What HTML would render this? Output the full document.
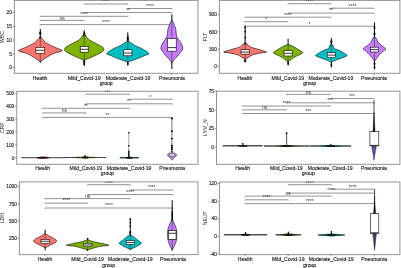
<!DOCTYPE html>
<html><head><meta charset="utf-8"><style>
html,body{margin:0;padding:0;background:#fff;width:401px;height:268px;overflow:hidden;}
body{position:relative;font-family:"Liberation Sans", sans-serif;}
</style></head><body>
<svg width="401" height="268" viewBox="0 0 401 268" style="position:absolute;left:0;top:0;filter:blur(0.3px)">
<rect width="401" height="268" fill="#fff"/>
<g font-family='"Liberation Sans", sans-serif'>
<rect x="14.4" y="0.4" width="183.54999999999998" height="72.89999999999999" fill="none" stroke="#939393" stroke-width="1.0"/>
<line x1="12.6" y1="67.6" x2="14.4" y2="67.6" stroke="#666" stroke-width="0.7" />
<text transform="matrix(1,0,0,1.0,11.90,69.32)" font-size="4.8" text-anchor="end" fill="#222" stroke="#222" stroke-width="0.14" >0</text>
<line x1="12.6" y1="53.8" x2="14.4" y2="53.8" stroke="#666" stroke-width="0.7" />
<text transform="matrix(1,0,0,1.0,11.90,55.52)" font-size="4.8" text-anchor="end" fill="#222" stroke="#222" stroke-width="0.14" >5</text>
<line x1="12.6" y1="40.05" x2="14.4" y2="40.05" stroke="#666" stroke-width="0.7" />
<text transform="matrix(1,0,0,1.0,11.90,41.77)" font-size="4.8" text-anchor="end" fill="#222" stroke="#222" stroke-width="0.14" >10</text>
<line x1="12.6" y1="26.3" x2="14.4" y2="26.3" stroke="#666" stroke-width="0.7" />
<text transform="matrix(1,0,0,1.0,11.90,28.02)" font-size="4.8" text-anchor="end" fill="#222" stroke="#222" stroke-width="0.14" >15</text>
<line x1="12.6" y1="12.5" x2="14.4" y2="12.5" stroke="#666" stroke-width="0.7" />
<text transform="matrix(1,0,0,1.0,11.90,14.22)" font-size="4.8" text-anchor="end" fill="#222" stroke="#222" stroke-width="0.14" >20</text>
<line x1="40.1" y1="73.3" x2="40.1" y2="74.89999999999999" stroke="#666" stroke-width="0.7" />
<text transform="matrix(1,0,0,0.95,40.10,79.81)" font-size="5.1" text-anchor="middle" fill="#222" stroke="#222" stroke-width="0.14" >Health</text>
<line x1="84.2" y1="73.3" x2="84.2" y2="74.89999999999999" stroke="#666" stroke-width="0.7" />
<text transform="matrix(1,0,0,0.95,84.20,79.81)" font-size="5.1" text-anchor="middle" fill="#222" stroke="#222" stroke-width="0.14" >Mild_Covid-19</text>
<line x1="128.0" y1="73.3" x2="128.0" y2="74.89999999999999" stroke="#666" stroke-width="0.7" />
<text transform="matrix(1,0,0,0.95,128.00,79.81)" font-size="5.1" text-anchor="middle" fill="#222" stroke="#222" stroke-width="0.14" >Moderate_Covid-19</text>
<line x1="172.0" y1="73.3" x2="172.0" y2="74.89999999999999" stroke="#666" stroke-width="0.7" />
<text transform="matrix(1,0,0,0.95,172.00,79.81)" font-size="5.1" text-anchor="middle" fill="#222" stroke="#222" stroke-width="0.14" >Pneumonia</text>
<text transform="matrix(1,0,0,0.95,106.17,85.31)" font-size="5.1" text-anchor="middle" fill="#222" stroke="#222" stroke-width="0.14" >group</text>
<text x="4.2" y="37" font-size="5.1" text-anchor="middle" fill="#222" transform="rotate(-90 4.2 37)">WBC</text>
<rect x="219.4" y="0.4" width="180.49999999999997" height="72.89999999999999" fill="none" stroke="#939393" stroke-width="1.0"/>
<line x1="217.6" y1="66.4" x2="219.4" y2="66.4" stroke="#666" stroke-width="0.7" />
<text transform="matrix(1,0,0,1.0,216.90,68.12)" font-size="4.8" text-anchor="end" fill="#222" stroke="#222" stroke-width="0.14" >0</text>
<line x1="217.6" y1="49.13" x2="219.4" y2="49.13" stroke="#666" stroke-width="0.7" />
<text transform="matrix(1,0,0,1.0,216.90,50.85)" font-size="4.8" text-anchor="end" fill="#222" stroke="#222" stroke-width="0.14" >300</text>
<line x1="217.6" y1="31.87" x2="219.4" y2="31.87" stroke="#666" stroke-width="0.7" />
<text transform="matrix(1,0,0,1.0,216.90,33.59)" font-size="4.8" text-anchor="end" fill="#222" stroke="#222" stroke-width="0.14" >600</text>
<line x1="217.6" y1="14.6" x2="219.4" y2="14.6" stroke="#666" stroke-width="0.7" />
<text transform="matrix(1,0,0,1.0,216.90,16.32)" font-size="4.8" text-anchor="end" fill="#222" stroke="#222" stroke-width="0.14" >900</text>
<line x1="244.9" y1="73.3" x2="244.9" y2="74.89999999999999" stroke="#666" stroke-width="0.7" />
<text transform="matrix(1,0,0,0.95,244.90,79.81)" font-size="5.1" text-anchor="middle" fill="#222" stroke="#222" stroke-width="0.14" >Health</text>
<line x1="287.9" y1="73.3" x2="287.9" y2="74.89999999999999" stroke="#666" stroke-width="0.7" />
<text transform="matrix(1,0,0,0.95,287.90,79.81)" font-size="5.1" text-anchor="middle" fill="#222" stroke="#222" stroke-width="0.14" >Mild_Covid-19</text>
<line x1="330.9" y1="73.3" x2="330.9" y2="74.89999999999999" stroke="#666" stroke-width="0.7" />
<text transform="matrix(1,0,0,0.95,330.90,79.81)" font-size="5.1" text-anchor="middle" fill="#222" stroke="#222" stroke-width="0.14" >Moderate_Covid-19</text>
<line x1="374.0" y1="73.3" x2="374.0" y2="74.89999999999999" stroke="#666" stroke-width="0.7" />
<text transform="matrix(1,0,0,0.95,374.00,79.81)" font-size="5.1" text-anchor="middle" fill="#222" stroke="#222" stroke-width="0.14" >Pneumonia</text>
<text transform="matrix(1,0,0,0.95,309.65,85.31)" font-size="5.1" text-anchor="middle" fill="#222" stroke="#222" stroke-width="0.14" >group</text>
<text x="206.6" y="37" font-size="5.1" text-anchor="middle" fill="#222" transform="rotate(-90 206.6 37)">PLT</text>
<rect x="16.8" y="91.3" width="181.14999999999998" height="73.00000000000001" fill="none" stroke="#939393" stroke-width="1.0"/>
<line x1="15.0" y1="157.8" x2="16.8" y2="157.8" stroke="#666" stroke-width="0.7" />
<text transform="matrix(1,0,0,1.0,14.30,159.52)" font-size="4.8" text-anchor="end" fill="#222" stroke="#222" stroke-width="0.14" >0</text>
<line x1="15.0" y1="144.9" x2="16.8" y2="144.9" stroke="#666" stroke-width="0.7" />
<text transform="matrix(1,0,0,1.0,14.30,146.62)" font-size="4.8" text-anchor="end" fill="#222" stroke="#222" stroke-width="0.14" >100</text>
<line x1="15.0" y1="132.0" x2="16.8" y2="132.0" stroke="#666" stroke-width="0.7" />
<text transform="matrix(1,0,0,1.0,14.30,133.72)" font-size="4.8" text-anchor="end" fill="#222" stroke="#222" stroke-width="0.14" >200</text>
<line x1="15.0" y1="119.1" x2="16.8" y2="119.1" stroke="#666" stroke-width="0.7" />
<text transform="matrix(1,0,0,1.0,14.30,120.82)" font-size="4.8" text-anchor="end" fill="#222" stroke="#222" stroke-width="0.14" >300</text>
<line x1="15.0" y1="106.2" x2="16.8" y2="106.2" stroke="#666" stroke-width="0.7" />
<text transform="matrix(1,0,0,1.0,14.30,107.92)" font-size="4.8" text-anchor="end" fill="#222" stroke="#222" stroke-width="0.14" >400</text>
<line x1="15.0" y1="93.3" x2="16.8" y2="93.3" stroke="#666" stroke-width="0.7" />
<text transform="matrix(1,0,0,1.0,14.30,95.02)" font-size="4.8" text-anchor="end" fill="#222" stroke="#222" stroke-width="0.14" >500</text>
<line x1="42.7" y1="164.3" x2="42.7" y2="165.9" stroke="#666" stroke-width="0.7" />
<text transform="matrix(1,0,0,0.95,42.70,169.81)" font-size="5.1" text-anchor="middle" fill="#222" stroke="#222" stroke-width="0.14" >Health</text>
<line x1="85.9" y1="164.3" x2="85.9" y2="165.9" stroke="#666" stroke-width="0.7" />
<text transform="matrix(1,0,0,0.95,85.90,169.81)" font-size="5.1" text-anchor="middle" fill="#222" stroke="#222" stroke-width="0.14" >Mild_Covid-19</text>
<line x1="129.0" y1="164.3" x2="129.0" y2="165.9" stroke="#666" stroke-width="0.7" />
<text transform="matrix(1,0,0,0.95,129.00,169.81)" font-size="5.1" text-anchor="middle" fill="#222" stroke="#222" stroke-width="0.14" >Moderate_Covid-19</text>
<line x1="172.2" y1="164.3" x2="172.2" y2="165.9" stroke="#666" stroke-width="0.7" />
<text transform="matrix(1,0,0,0.95,172.20,169.81)" font-size="5.1" text-anchor="middle" fill="#222" stroke="#222" stroke-width="0.14" >Pneumonia</text>
<text transform="matrix(1,0,0,0.95,107.38,175.31)" font-size="5.1" text-anchor="middle" fill="#222" stroke="#222" stroke-width="0.14" >group</text>
<text x="4.2" y="127.7" font-size="5.1" text-anchor="middle" fill="#222" transform="rotate(-90 4.2 127.7)">CRP</text>
<rect x="216.5" y="91.2" width="183.39999999999998" height="73.10000000000001" fill="none" stroke="#939393" stroke-width="1.0"/>
<line x1="214.7" y1="147.3" x2="216.5" y2="147.3" stroke="#666" stroke-width="0.7" />
<text transform="matrix(1,0,0,1.0,214.00,149.02)" font-size="4.8" text-anchor="end" fill="#222" stroke="#222" stroke-width="0.14" >0</text>
<line x1="214.7" y1="128.6" x2="216.5" y2="128.6" stroke="#666" stroke-width="0.7" />
<text transform="matrix(1,0,0,1.0,214.00,130.32)" font-size="4.8" text-anchor="end" fill="#222" stroke="#222" stroke-width="0.14" >25</text>
<line x1="214.7" y1="110.0" x2="216.5" y2="110.0" stroke="#666" stroke-width="0.7" />
<text transform="matrix(1,0,0,1.0,214.00,111.72)" font-size="4.8" text-anchor="end" fill="#222" stroke="#222" stroke-width="0.14" >50</text>
<line x1="214.7" y1="91.3" x2="216.5" y2="91.3" stroke="#666" stroke-width="0.7" />
<text transform="matrix(1,0,0,1.0,214.00,93.02)" font-size="4.8" text-anchor="end" fill="#222" stroke="#222" stroke-width="0.14" >75</text>
<line x1="242.7" y1="164.3" x2="242.7" y2="165.9" stroke="#666" stroke-width="0.7" />
<text transform="matrix(1,0,0,0.95,242.70,169.81)" font-size="5.1" text-anchor="middle" fill="#222" stroke="#222" stroke-width="0.14" >Health</text>
<line x1="286.4" y1="164.3" x2="286.4" y2="165.9" stroke="#666" stroke-width="0.7" />
<text transform="matrix(1,0,0,0.95,286.40,169.81)" font-size="5.1" text-anchor="middle" fill="#222" stroke="#222" stroke-width="0.14" >Mild_Covid-19</text>
<line x1="330.2" y1="164.3" x2="330.2" y2="165.9" stroke="#666" stroke-width="0.7" />
<text transform="matrix(1,0,0,0.95,330.20,169.81)" font-size="5.1" text-anchor="middle" fill="#222" stroke="#222" stroke-width="0.14" >Moderate_Covid-19</text>
<line x1="373.9" y1="164.3" x2="373.9" y2="165.9" stroke="#666" stroke-width="0.7" />
<text transform="matrix(1,0,0,0.95,373.90,169.81)" font-size="5.1" text-anchor="middle" fill="#222" stroke="#222" stroke-width="0.14" >Pneumonia</text>
<text transform="matrix(1,0,0,0.95,308.20,175.31)" font-size="5.1" text-anchor="middle" fill="#222" stroke="#222" stroke-width="0.14" >group</text>
<text x="206.6" y="127.6" font-size="5.1" text-anchor="middle" fill="#222" transform="rotate(-90 206.6 127.6)">LYM_N</text>
<rect x="19.4" y="181.9" width="178.54999999999998" height="72.69999999999999" fill="none" stroke="#939393" stroke-width="1.0"/>
<line x1="17.599999999999998" y1="238.3" x2="19.4" y2="238.3" stroke="#666" stroke-width="0.7" />
<text transform="matrix(1,0,0,1.0,16.90,240.02)" font-size="4.8" text-anchor="end" fill="#222" stroke="#222" stroke-width="0.14" >250</text>
<line x1="17.599999999999998" y1="221.0" x2="19.4" y2="221.0" stroke="#666" stroke-width="0.7" />
<text transform="matrix(1,0,0,1.0,16.90,222.72)" font-size="4.8" text-anchor="end" fill="#222" stroke="#222" stroke-width="0.14" >500</text>
<line x1="17.599999999999998" y1="203.8" x2="19.4" y2="203.8" stroke="#666" stroke-width="0.7" />
<text transform="matrix(1,0,0,1.0,16.90,205.52)" font-size="4.8" text-anchor="end" fill="#222" stroke="#222" stroke-width="0.14" >750</text>
<line x1="17.599999999999998" y1="186.5" x2="19.4" y2="186.5" stroke="#666" stroke-width="0.7" />
<text transform="matrix(1,0,0,1.0,16.90,188.22)" font-size="4.8" text-anchor="end" fill="#222" stroke="#222" stroke-width="0.14" >1000</text>
<line x1="45.0" y1="254.6" x2="45.0" y2="256.2" stroke="#666" stroke-width="0.7" />
<text transform="matrix(1,0,0,0.95,45.00,261.11)" font-size="5.1" text-anchor="middle" fill="#222" stroke="#222" stroke-width="0.14" >Health</text>
<line x1="87.6" y1="254.6" x2="87.6" y2="256.2" stroke="#666" stroke-width="0.7" />
<text transform="matrix(1,0,0,0.95,87.60,261.11)" font-size="5.1" text-anchor="middle" fill="#222" stroke="#222" stroke-width="0.14" >Mild_Covid-19</text>
<line x1="130.3" y1="254.6" x2="130.3" y2="256.2" stroke="#666" stroke-width="0.7" />
<text transform="matrix(1,0,0,0.95,130.30,261.11)" font-size="5.1" text-anchor="middle" fill="#222" stroke="#222" stroke-width="0.14" >Moderate_Covid-19</text>
<line x1="172.9" y1="254.6" x2="172.9" y2="256.2" stroke="#666" stroke-width="0.7" />
<text transform="matrix(1,0,0,0.95,172.90,261.11)" font-size="5.1" text-anchor="middle" fill="#222" stroke="#222" stroke-width="0.14" >Pneumonia</text>
<text transform="matrix(1,0,0,0.95,108.67,266.61)" font-size="5.1" text-anchor="middle" fill="#222" stroke="#222" stroke-width="0.14" >group</text>
<text x="4.2" y="218.2" font-size="5.1" text-anchor="middle" fill="#222" transform="rotate(-90 4.2 218.2)">LDH</text>
<rect x="219.4" y="182.0" width="180.49999999999997" height="72.6" fill="none" stroke="#939393" stroke-width="1.0"/>
<line x1="217.6" y1="253.9" x2="219.4" y2="253.9" stroke="#666" stroke-width="0.7" />
<text transform="matrix(1,0,0,1.0,216.90,255.62)" font-size="4.8" text-anchor="end" fill="#222" stroke="#222" stroke-width="0.14" >-40</text>
<line x1="217.6" y1="236.3" x2="219.4" y2="236.3" stroke="#666" stroke-width="0.7" />
<text transform="matrix(1,0,0,1.0,216.90,238.02)" font-size="4.8" text-anchor="end" fill="#222" stroke="#222" stroke-width="0.14" >0</text>
<line x1="217.6" y1="218.7" x2="219.4" y2="218.7" stroke="#666" stroke-width="0.7" />
<text transform="matrix(1,0,0,1.0,216.90,220.42)" font-size="4.8" text-anchor="end" fill="#222" stroke="#222" stroke-width="0.14" >40</text>
<line x1="217.6" y1="201.2" x2="219.4" y2="201.2" stroke="#666" stroke-width="0.7" />
<text transform="matrix(1,0,0,1.0,216.90,202.92)" font-size="4.8" text-anchor="end" fill="#222" stroke="#222" stroke-width="0.14" >80</text>
<line x1="217.6" y1="183.6" x2="219.4" y2="183.6" stroke="#666" stroke-width="0.7" />
<text transform="matrix(1,0,0,1.0,216.90,185.32)" font-size="4.8" text-anchor="end" fill="#222" stroke="#222" stroke-width="0.14" >120</text>
<line x1="245.2" y1="254.6" x2="245.2" y2="256.2" stroke="#666" stroke-width="0.7" />
<text transform="matrix(1,0,0,0.95,245.20,261.11)" font-size="5.1" text-anchor="middle" fill="#222" stroke="#222" stroke-width="0.14" >Health</text>
<line x1="288.2" y1="254.6" x2="288.2" y2="256.2" stroke="#666" stroke-width="0.7" />
<text transform="matrix(1,0,0,0.95,288.20,261.11)" font-size="5.1" text-anchor="middle" fill="#222" stroke="#222" stroke-width="0.14" >Mild_Covid-19</text>
<line x1="331.2" y1="254.6" x2="331.2" y2="256.2" stroke="#666" stroke-width="0.7" />
<text transform="matrix(1,0,0,0.95,331.20,261.11)" font-size="5.1" text-anchor="middle" fill="#222" stroke="#222" stroke-width="0.14" >Moderate_Covid-19</text>
<line x1="374.2" y1="254.6" x2="374.2" y2="256.2" stroke="#666" stroke-width="0.7" />
<text transform="matrix(1,0,0,0.95,374.20,261.11)" font-size="5.1" text-anchor="middle" fill="#222" stroke="#222" stroke-width="0.14" >Pneumonia</text>
<text transform="matrix(1,0,0,0.95,309.65,266.61)" font-size="5.1" text-anchor="middle" fill="#222" stroke="#222" stroke-width="0.14" >group</text>
<text x="206.6" y="218.2" font-size="5.1" text-anchor="middle" fill="#222" transform="rotate(-90 206.6 218.2)">NEUT</text>
<clipPath id="c0"><rect x="14.4" y="-0.09999999999999998" width="183.54999999999998" height="73.39999999999999"/></clipPath>
<g clip-path="url(#c0)">
<path d="M84.2,4.8 L84.2,4.0 L128.0,4.0 L128.0,4.8" fill="none" stroke="#666" stroke-width="0.7"/>
<text transform="matrix(1,0,0,0.95,106.10,3.31)" font-size="5.0" text-anchor="middle" fill="#333" stroke="#333" stroke-width="0" >****</text>
<path d="M128.0,9.3 L128.0,8.5 L172.0,8.5 L172.0,9.3" fill="none" stroke="#666" stroke-width="0.7"/>
<text transform="matrix(1,0,0,0.95,150.00,7.81)" font-size="5.0" text-anchor="middle" fill="#333" stroke="#333" stroke-width="0" >****</text>
<path d="M84.2,13.3 L84.2,12.5 L172.0,12.5 L172.0,13.3" fill="none" stroke="#666" stroke-width="0.7"/>
<text transform="matrix(1,0,0,0.95,128.10,11.81)" font-size="5.0" text-anchor="middle" fill="#333" stroke="#333" stroke-width="0" >**</text>
<path d="M40.1,17.1 L40.1,16.3 L128.0,16.3 L128.0,17.1" fill="none" stroke="#666" stroke-width="0.7"/>
<text transform="matrix(1,0,0,0.95,84.05,15.61)" font-size="5.0" text-anchor="middle" fill="#333" stroke="#333" stroke-width="0" >****</text>
<path d="M40.1,21.2 L40.1,20.4 L84.2,20.4 L84.2,21.2" fill="none" stroke="#666" stroke-width="0.7"/>
<text transform="matrix(1,0,0,0.95,62.15,19.71)" font-size="5.0" text-anchor="middle" fill="#333" stroke="#333" stroke-width="0" >ns</text>
<path d="M40.1,25.400000000000002 L40.1,24.6 L172.0,24.6 L172.0,25.400000000000002" fill="none" stroke="#666" stroke-width="0.7"/>
<text transform="matrix(1,0,0,0.95,106.05,23.91)" font-size="5.0" text-anchor="middle" fill="#333" stroke="#333" stroke-width="0" >****</text>
</g>
<clipPath id="c1"><rect x="219.4" y="-0.09999999999999998" width="180.49999999999997" height="73.39999999999999"/></clipPath>
<g clip-path="url(#c1)">
<path d="M287.9,4.5 L287.9,3.7 L330.9,3.7 L330.9,4.5" fill="none" stroke="#666" stroke-width="0.7"/>
<text transform="matrix(1,0,0,0.95,309.40,3.01)" font-size="5.0" text-anchor="middle" fill="#333" stroke="#333" stroke-width="0" >****</text>
<path d="M330.9,9.0 L330.9,8.2 L374.0,8.2 L374.0,9.0" fill="none" stroke="#666" stroke-width="0.7"/>
<text transform="matrix(1,0,0,0.95,352.45,7.51)" font-size="5.0" text-anchor="middle" fill="#333" stroke="#333" stroke-width="0" >****</text>
<path d="M287.9,13.9 L287.9,13.1 L374.0,13.1 L374.0,13.9" fill="none" stroke="#666" stroke-width="0.7"/>
<text transform="matrix(1,0,0,0.95,330.95,12.41)" font-size="5.0" text-anchor="middle" fill="#333" stroke="#333" stroke-width="0" >**</text>
<path d="M244.9,18.0 L244.9,17.2 L330.9,17.2 L330.9,18.0" fill="none" stroke="#666" stroke-width="0.7"/>
<text transform="matrix(1,0,0,0.95,287.90,16.51)" font-size="5.0" text-anchor="middle" fill="#333" stroke="#333" stroke-width="0" >****</text>
<path d="M244.9,22.5 L244.9,21.7 L287.9,21.7 L287.9,22.5" fill="none" stroke="#666" stroke-width="0.7"/>
<text transform="matrix(1,0,0,0.95,266.40,21.01)" font-size="5.0" text-anchor="middle" fill="#333" stroke="#333" stroke-width="0" >*</text>
<path d="M244.9,27.0 L244.9,26.2 L374.0,26.2 L374.0,27.0" fill="none" stroke="#666" stroke-width="0.7"/>
<text transform="matrix(1,0,0,0.95,309.45,25.51)" font-size="5.0" text-anchor="middle" fill="#333" stroke="#333" stroke-width="0" >*</text>
</g>
<clipPath id="c2"><rect x="16.8" y="90.8" width="181.14999999999998" height="73.50000000000001"/></clipPath>
<g clip-path="url(#c2)">
<path d="M85.9,95.0 L85.9,94.2 L129.0,94.2 L129.0,95.0" fill="none" stroke="#666" stroke-width="0.7"/>
<text transform="matrix(1,0,0,0.95,107.45,94.11)" font-size="5.0" text-anchor="middle" fill="#333" stroke="#333" stroke-width="0" >***</text>
<path d="M129.0,100.0 L129.0,99.2 L172.2,99.2 L172.2,100.0" fill="none" stroke="#666" stroke-width="0.7"/>
<text transform="matrix(1,0,0,0.95,150.60,98.51)" font-size="5.0" text-anchor="middle" fill="#333" stroke="#333" stroke-width="0" >*</text>
<path d="M85.9,104.6 L85.9,103.8 L172.2,103.8 L172.2,104.6" fill="none" stroke="#666" stroke-width="0.7"/>
<text transform="matrix(1,0,0,0.95,129.05,103.11)" font-size="5.0" text-anchor="middle" fill="#333" stroke="#333" stroke-width="0" >**</text>
<path d="M42.7,109.1 L42.7,108.3 L129.0,108.3 L129.0,109.1" fill="none" stroke="#666" stroke-width="0.7"/>
<text transform="matrix(1,0,0,0.95,85.85,107.61)" font-size="5.0" text-anchor="middle" fill="#333" stroke="#333" stroke-width="0" >**</text>
<path d="M42.7,113.7 L42.7,112.9 L85.9,112.9 L85.9,113.7" fill="none" stroke="#666" stroke-width="0.7"/>
<text transform="matrix(1,0,0,0.95,64.30,112.21)" font-size="5.0" text-anchor="middle" fill="#333" stroke="#333" stroke-width="0" >ns</text>
<path d="M42.7,118.2 L42.7,117.4 L172.2,117.4 L172.2,118.2" fill="none" stroke="#666" stroke-width="0.7"/>
<text transform="matrix(1,0,0,0.95,107.45,116.71)" font-size="5.0" text-anchor="middle" fill="#333" stroke="#333" stroke-width="0" >**</text>
</g>
<clipPath id="c3"><rect x="216.5" y="90.7" width="183.39999999999998" height="73.60000000000001"/></clipPath>
<g clip-path="url(#c3)">
<path d="M286.4,95.2 L286.4,94.4 L330.2,94.4 L330.2,95.2" fill="none" stroke="#666" stroke-width="0.7"/>
<text transform="matrix(1,0,0,0.95,308.30,93.71)" font-size="5.0" text-anchor="middle" fill="#333" stroke="#333" stroke-width="0" >ns</text>
<path d="M330.2,99.3 L330.2,98.5 L373.9,98.5 L373.9,99.3" fill="none" stroke="#666" stroke-width="0.7"/>
<text transform="matrix(1,0,0,0.95,352.05,97.81)" font-size="5.0" text-anchor="middle" fill="#333" stroke="#333" stroke-width="0" >***</text>
<path d="M286.4,103.6 L286.4,102.8 L373.9,102.8 L373.9,103.6" fill="none" stroke="#666" stroke-width="0.7"/>
<text transform="matrix(1,0,0,0.95,330.15,102.11)" font-size="5.0" text-anchor="middle" fill="#333" stroke="#333" stroke-width="0" >***</text>
<path d="M242.7,106.8 L242.7,106.0 L330.2,106.0 L330.2,106.8" fill="none" stroke="#666" stroke-width="0.7"/>
<text transform="matrix(1,0,0,0.95,286.45,105.31)" font-size="5.0" text-anchor="middle" fill="#333" stroke="#333" stroke-width="0" >****</text>
<path d="M242.7,110.6 L242.7,109.8 L286.4,109.8 L286.4,110.6" fill="none" stroke="#666" stroke-width="0.7"/>
<text transform="matrix(1,0,0,0.95,264.55,109.11)" font-size="5.0" text-anchor="middle" fill="#333" stroke="#333" stroke-width="0" >ns</text>
<path d="M242.7,114.3 L242.7,113.5 L373.9,113.5 L373.9,114.3" fill="none" stroke="#666" stroke-width="0.7"/>
<text transform="matrix(1,0,0,0.95,308.30,112.81)" font-size="5.0" text-anchor="middle" fill="#333" stroke="#333" stroke-width="0" >***</text>
</g>
<clipPath id="c4"><rect x="19.4" y="181.4" width="178.54999999999998" height="73.19999999999999"/></clipPath>
<g clip-path="url(#c4)">
<path d="M87.6,185.5 L87.6,184.7 L130.3,184.7 L130.3,185.5" fill="none" stroke="#666" stroke-width="0.7"/>
<text transform="matrix(1,0,0,0.95,108.95,184.91)" font-size="5.0" text-anchor="middle" fill="#333" stroke="#333" stroke-width="0" >****</text>
<path d="M130.3,190.8 L130.3,190.0 L172.9,190.0 L172.9,190.8" fill="none" stroke="#666" stroke-width="0.7"/>
<text transform="matrix(1,0,0,0.95,151.60,189.31)" font-size="5.0" text-anchor="middle" fill="#333" stroke="#333" stroke-width="0" >****</text>
<path d="M87.6,195.3 L87.6,194.5 L172.9,194.5 L172.9,195.3" fill="none" stroke="#666" stroke-width="0.7"/>
<text transform="matrix(1,0,0,0.95,130.25,193.81)" font-size="5.0" text-anchor="middle" fill="#333" stroke="#333" stroke-width="0" >****</text>
<path d="M45.0,199.4 L45.0,198.6 L130.3,198.6 L130.3,199.4" fill="none" stroke="#666" stroke-width="0.7"/>
<text transform="matrix(1,0,0,0.95,87.65,197.91)" font-size="5.0" text-anchor="middle" fill="#333" stroke="#333" stroke-width="0" >ns</text>
<path d="M45.0,203.9 L45.0,203.1 L87.6,203.1 L87.6,203.9" fill="none" stroke="#666" stroke-width="0.7"/>
<text transform="matrix(1,0,0,0.95,66.30,202.41)" font-size="5.0" text-anchor="middle" fill="#333" stroke="#333" stroke-width="0" >****</text>
<path d="M45.0,208.8 L45.0,208.0 L172.9,208.0 L172.9,208.8" fill="none" stroke="#666" stroke-width="0.7"/>
<text transform="matrix(1,0,0,0.95,108.95,207.31)" font-size="5.0" text-anchor="middle" fill="#333" stroke="#333" stroke-width="0" >****</text>
</g>
<clipPath id="c5"><rect x="219.4" y="181.5" width="180.49999999999997" height="73.1"/></clipPath>
<g clip-path="url(#c5)">
<path d="M288.2,185.5 L288.2,184.7 L331.2,184.7 L331.2,185.5" fill="none" stroke="#666" stroke-width="0.7"/>
<text transform="matrix(1,0,0,0.95,309.70,184.91)" font-size="5.0" text-anchor="middle" fill="#333" stroke="#333" stroke-width="0" >****</text>
<path d="M331.2,190.0 L331.2,189.2 L374.2,189.2 L374.2,190.0" fill="none" stroke="#666" stroke-width="0.7"/>
<text transform="matrix(1,0,0,0.95,352.70,188.51)" font-size="5.0" text-anchor="middle" fill="#333" stroke="#333" stroke-width="0" >****</text>
<path d="M288.2,193.9 L288.2,193.1 L374.2,193.1 L374.2,193.9" fill="none" stroke="#666" stroke-width="0.7"/>
<text transform="matrix(1,0,0,0.95,331.20,192.41)" font-size="5.0" text-anchor="middle" fill="#333" stroke="#333" stroke-width="0" >****</text>
<path d="M245.2,196.9 L245.2,196.1 L331.2,196.1 L331.2,196.9" fill="none" stroke="#666" stroke-width="0.7"/>
<text transform="matrix(1,0,0,0.95,288.20,195.41)" font-size="5.0" text-anchor="middle" fill="#333" stroke="#333" stroke-width="0" >ns</text>
<path d="M245.2,200.60000000000002 L245.2,199.8 L288.2,199.8 L288.2,200.60000000000002" fill="none" stroke="#666" stroke-width="0.7"/>
<text transform="matrix(1,0,0,0.95,266.70,199.11)" font-size="5.0" text-anchor="middle" fill="#333" stroke="#333" stroke-width="0" >****</text>
<path d="M245.2,204.4 L245.2,203.6 L374.2,203.6 L374.2,204.4" fill="none" stroke="#666" stroke-width="0.7"/>
<text transform="matrix(1,0,0,0.95,309.70,202.91)" font-size="5.0" text-anchor="middle" fill="#333" stroke="#333" stroke-width="0" >****</text>
</g>
<line x1="40.3" y1="28.9" x2="40.3" y2="62.6" stroke="#000" stroke-width="1.0" />
<ellipse cx="40.3" cy="33.3" rx="1.1" ry="1.8" fill="#0a0a14"/>
<ellipse cx="40.3" cy="37.2" rx="1.2" ry="1.0" fill="#0a0a14"/>
<ellipse cx="40.3" cy="61.8" rx="0.8" ry="0.8" fill="#0a0a14"/>
<path d="M40.30,37.70 L40.96,38.11 L41.57,38.51 L42.14,38.92 L42.66,39.32 L43.12,39.73 L43.51,40.13 L43.82,40.54 L44.10,40.94 L44.39,41.35 L44.75,41.75 L45.22,42.16 L45.78,42.56 L46.43,42.97 L47.12,43.37 L47.84,43.78 L48.57,44.18 L49.29,44.59 L50.05,44.99 L50.83,45.40 L51.63,45.80 L52.46,46.21 L53.32,46.61 L54.20,47.02 L55.11,47.42 L56.10,47.83 L57.14,48.23 L58.19,48.64 L59.21,49.04 L60.18,49.45 L61.23,49.85 L62.19,50.26 L62.33,50.66 L61.74,51.07 L60.86,51.47 L59.70,51.88 L58.09,52.28 L56.38,52.69 L54.91,53.09 L53.84,53.50 L52.90,53.90 L52.04,54.31 L51.25,54.71 L50.51,55.12 L49.79,55.52 L49.08,55.93 L48.36,56.33 L47.65,56.74 L46.95,57.14 L46.28,57.55 L45.63,57.95 L45.01,58.36 L44.42,58.76 L43.88,59.17 L43.36,59.57 L42.83,59.98 L42.27,60.38 L41.65,60.79 L40.99,61.19 L40.30,61.60 L40.30,61.60 L39.61,61.19 L38.95,60.79 L38.33,60.38 L37.77,59.98 L37.24,59.57 L36.72,59.17 L36.18,58.76 L35.59,58.36 L34.97,57.95 L34.32,57.55 L33.65,57.14 L32.95,56.74 L32.24,56.33 L31.52,55.93 L30.81,55.52 L30.09,55.12 L29.35,54.71 L28.56,54.31 L27.70,53.90 L26.76,53.50 L25.69,53.09 L24.22,52.69 L22.51,52.28 L20.90,51.88 L19.74,51.47 L18.86,51.07 L18.27,50.66 L18.41,50.26 L19.37,49.85 L20.42,49.45 L21.39,49.04 L22.41,48.64 L23.46,48.23 L24.50,47.83 L25.49,47.42 L26.40,47.02 L27.28,46.61 L28.14,46.21 L28.97,45.80 L29.77,45.40 L30.55,44.99 L31.31,44.59 L32.03,44.18 L32.76,43.78 L33.48,43.37 L34.17,42.97 L34.82,42.56 L35.38,42.16 L35.85,41.75 L36.21,41.35 L36.50,40.94 L36.78,40.54 L37.09,40.13 L37.48,39.73 L37.94,39.32 L38.46,38.92 L39.03,38.51 L39.64,38.11 L40.30,37.70 Z" fill="#F8766D" stroke="#000" stroke-width="0.6" stroke-linejoin="round"/>
<line x1="40.3" y1="37.7" x2="40.3" y2="61.6" stroke="#222" stroke-width="0.5" />
<rect x="35.9" y="47.3" width="8.799999999999997" height="5.900000000000006" fill="#fff" stroke="#000" stroke-width="0.6"/>
<line x1="35.9" y1="50.3" x2="44.699999999999996" y2="50.3" stroke="#222" stroke-width="0.9" />
<line x1="84.2" y1="30.2" x2="84.2" y2="66" stroke="#000" stroke-width="1.0" />
<ellipse cx="84.2" cy="33.2" rx="0.9" ry="1.3" fill="#0a0a14"/>
<ellipse cx="84.2" cy="35.2" rx="1.4" ry="1.2" fill="#0a0a14"/>
<ellipse cx="84.2" cy="61.6" rx="1.1" ry="1.4" fill="#0a0a14"/>
<ellipse cx="84.2" cy="63.8" rx="0.85" ry="1.2" fill="#0a0a14"/>
<path d="M84.20,35.30 L85.59,35.72 L86.10,36.14 L86.44,36.56 L86.69,36.97 L86.95,37.39 L87.30,37.81 L87.68,38.23 L88.07,38.65 L88.47,39.07 L88.92,39.49 L89.44,39.91 L90.05,40.32 L90.76,40.74 L91.52,41.16 L92.30,41.58 L93.08,42.00 L93.90,42.42 L94.76,42.84 L95.63,43.25 L96.48,43.67 L97.27,44.09 L98.00,44.51 L98.71,44.93 L99.41,45.35 L100.11,45.77 L100.90,46.18 L101.72,46.60 L102.45,47.02 L102.95,47.44 L103.25,47.86 L103.51,48.28 L103.72,48.70 L103.86,49.12 L103.90,49.53 L103.81,49.95 L103.61,50.37 L103.31,50.79 L102.96,51.21 L102.57,51.63 L102.00,52.05 L101.26,52.46 L100.43,52.88 L99.58,53.30 L98.79,53.72 L97.99,54.14 L97.17,54.56 L96.33,54.98 L95.48,55.39 L94.60,55.81 L93.70,56.23 L92.76,56.65 L91.79,57.07 L90.81,57.49 L89.82,57.91 L88.84,58.33 L87.87,58.74 L86.80,59.16 L85.57,59.58 L84.20,60.00 L84.20,60.00 L82.83,59.58 L81.60,59.16 L80.53,58.74 L79.56,58.33 L78.58,57.91 L77.59,57.49 L76.61,57.07 L75.64,56.65 L74.70,56.23 L73.80,55.81 L72.92,55.39 L72.07,54.98 L71.23,54.56 L70.41,54.14 L69.61,53.72 L68.82,53.30 L67.97,52.88 L67.14,52.46 L66.40,52.05 L65.83,51.63 L65.44,51.21 L65.09,50.79 L64.79,50.37 L64.59,49.95 L64.50,49.53 L64.54,49.12 L64.68,48.70 L64.89,48.28 L65.15,47.86 L65.45,47.44 L65.95,47.02 L66.68,46.60 L67.50,46.18 L68.29,45.77 L68.99,45.35 L69.69,44.93 L70.40,44.51 L71.13,44.09 L71.92,43.67 L72.77,43.25 L73.64,42.84 L74.50,42.42 L75.32,42.00 L76.10,41.58 L76.88,41.16 L77.64,40.74 L78.35,40.32 L78.96,39.91 L79.48,39.49 L79.93,39.07 L80.33,38.65 L80.72,38.23 L81.10,37.81 L81.45,37.39 L81.71,36.97 L81.96,36.56 L82.30,36.14 L82.81,35.72 L84.20,35.30 Z" fill="#7EB300" stroke="#000" stroke-width="0.6" stroke-linejoin="round"/>
<line x1="84.2" y1="35.3" x2="84.2" y2="60" stroke="#222" stroke-width="0.5" />
<rect x="80.2" y="46.5" width="8.0" height="5.700000000000003" fill="#fff" stroke="#000" stroke-width="0.6"/>
<line x1="80.2" y1="49.3" x2="88.2" y2="49.3" stroke="#222" stroke-width="0.9" />
<line x1="127.8" y1="32.5" x2="127.8" y2="65.6" stroke="#000" stroke-width="1.0" />
<ellipse cx="127.8" cy="38.6" rx="1.05" ry="2.8" fill="#0a0a14"/>
<ellipse cx="127.8" cy="63.5" rx="0.8" ry="1.5" fill="#0a0a14"/>
<path d="M127.80,41.00 L128.50,41.36 L129.16,41.72 L129.77,42.08 L130.34,42.44 L130.88,42.81 L131.43,43.17 L132.00,43.53 L132.58,43.89 L133.15,44.25 L133.72,44.61 L134.31,44.97 L134.92,45.33 L135.55,45.69 L136.21,46.05 L136.93,46.42 L137.73,46.78 L138.57,47.14 L139.43,47.50 L140.28,47.86 L141.11,48.22 L141.87,48.58 L142.56,48.94 L143.17,49.30 L143.75,49.66 L144.34,50.03 L144.98,50.39 L145.64,50.75 L146.26,51.11 L146.76,51.47 L147.19,51.83 L147.61,52.19 L148.01,52.55 L148.36,52.91 L148.64,53.27 L148.83,53.64 L148.90,54.00 L148.41,54.36 L147.26,54.72 L145.95,55.08 L144.96,55.44 L144.13,55.80 L143.34,56.16 L142.57,56.52 L141.77,56.88 L140.92,57.25 L140.06,57.61 L139.19,57.97 L138.30,58.33 L137.38,58.69 L136.44,59.05 L135.47,59.41 L134.40,59.77 L133.27,60.13 L132.16,60.49 L131.15,60.86 L130.23,61.22 L129.36,61.58 L128.55,61.94 L127.80,62.30 L127.80,62.30 L127.05,61.94 L126.24,61.58 L125.37,61.22 L124.45,60.86 L123.44,60.49 L122.33,60.13 L121.20,59.77 L120.13,59.41 L119.16,59.05 L118.22,58.69 L117.30,58.33 L116.41,57.97 L115.54,57.61 L114.68,57.25 L113.83,56.88 L113.03,56.52 L112.26,56.16 L111.47,55.80 L110.64,55.44 L109.65,55.08 L108.34,54.72 L107.19,54.36 L106.70,54.00 L106.77,53.64 L106.96,53.27 L107.24,52.91 L107.59,52.55 L107.99,52.19 L108.41,51.83 L108.84,51.47 L109.34,51.11 L109.96,50.75 L110.62,50.39 L111.26,50.03 L111.85,49.66 L112.43,49.30 L113.04,48.94 L113.73,48.58 L114.49,48.22 L115.32,47.86 L116.17,47.50 L117.03,47.14 L117.87,46.78 L118.67,46.42 L119.39,46.05 L120.05,45.69 L120.68,45.33 L121.29,44.97 L121.88,44.61 L122.45,44.25 L123.02,43.89 L123.60,43.53 L124.17,43.17 L124.72,42.81 L125.26,42.44 L125.83,42.08 L126.44,41.72 L127.10,41.36 L127.80,41.00 Z" fill="#00BFC4" stroke="#000" stroke-width="0.6" stroke-linejoin="round"/>
<line x1="127.8" y1="41" x2="127.8" y2="62.3" stroke="#222" stroke-width="0.5" />
<rect x="123.7" y="49.8" width="8.200000000000003" height="6.0" fill="#fff" stroke="#000" stroke-width="0.6"/>
<line x1="123.7" y1="53.0" x2="131.9" y2="53.0" stroke="#222" stroke-width="0.9" />
<line x1="171.85" y1="14.5" x2="171.85" y2="69" stroke="#000" stroke-width="1.0" />
<path d="M171.85,20.00 L172.33,20.73 L172.77,21.46 L173.14,22.19 L173.45,22.92 L173.73,23.64 L174.00,24.37 L174.30,25.10 L174.62,25.83 L174.94,26.56 L175.24,27.29 L175.50,28.02 L175.70,28.75 L175.83,29.47 L175.92,30.20 L176.00,30.93 L176.06,31.66 L176.13,32.39 L176.20,33.12 L176.29,33.85 L176.37,34.58 L176.47,35.31 L176.61,36.03 L176.91,36.76 L177.34,37.49 L177.77,38.22 L178.20,38.95 L178.65,39.68 L179.12,40.41 L179.63,41.14 L180.17,41.86 L180.70,42.59 L181.18,43.32 L181.57,44.05 L181.91,44.78 L182.20,45.51 L182.41,46.24 L182.61,46.97 L182.74,47.69 L182.72,48.42 L182.55,49.15 L182.30,49.88 L181.88,50.61 L181.22,51.34 L180.60,52.07 L180.09,52.80 L179.59,53.53 L179.06,54.25 L178.50,54.98 L177.90,55.71 L177.24,56.44 L176.48,57.17 L175.70,57.90 L174.97,58.63 L174.37,59.36 L173.86,60.08 L173.38,60.81 L172.88,61.54 L172.37,62.27 L171.85,63.00 L171.85,63.00 L171.33,62.27 L170.82,61.54 L170.32,60.81 L169.84,60.08 L169.33,59.36 L168.73,58.63 L168.00,57.90 L167.22,57.17 L166.46,56.44 L165.80,55.71 L165.20,54.98 L164.64,54.25 L164.11,53.53 L163.61,52.80 L163.10,52.07 L162.48,51.34 L161.82,50.61 L161.40,49.88 L161.15,49.15 L160.98,48.42 L160.96,47.69 L161.09,46.97 L161.29,46.24 L161.50,45.51 L161.79,44.78 L162.13,44.05 L162.52,43.32 L163.00,42.59 L163.53,41.86 L164.07,41.14 L164.58,40.41 L165.05,39.68 L165.50,38.95 L165.93,38.22 L166.36,37.49 L166.79,36.76 L167.09,36.03 L167.23,35.31 L167.33,34.58 L167.41,33.85 L167.50,33.12 L167.57,32.39 L167.64,31.66 L167.70,30.93 L167.78,30.20 L167.87,29.47 L168.00,28.75 L168.20,28.02 L168.46,27.29 L168.76,26.56 L169.08,25.83 L169.40,25.10 L169.70,24.37 L169.97,23.64 L170.25,22.92 L170.56,22.19 L170.93,21.46 L171.37,20.73 L171.85,20.00 Z" fill="#C77CFF" stroke="#000" stroke-width="0.6" stroke-linejoin="round"/>
<line x1="171.85" y1="20" x2="171.85" y2="63" stroke="#222" stroke-width="0.5" />
<rect x="167.5" y="38.6" width="8.699999999999989" height="12.600000000000001" fill="#fff" stroke="#000" stroke-width="0.6"/>
<line x1="167.5" y1="47.6" x2="176.2" y2="47.6" stroke="#222" stroke-width="0.9" />
<line x1="245.15" y1="25.5" x2="245.15" y2="62.4" stroke="#000" stroke-width="1.0" />
<circle cx="245.15" cy="27.6" r="0.85" fill="#000"/>
<circle cx="245.15" cy="31.5" r="0.85" fill="#000"/>
<circle cx="245.15" cy="37.6" r="0.85" fill="#000"/>
<ellipse cx="245.15" cy="43.3" rx="1.2" ry="1.0" fill="#0a0a14"/>
<ellipse cx="245.15" cy="44.8" rx="1.3" ry="1.1" fill="#0a0a14"/>
<ellipse cx="245.15" cy="60.8" rx="1.05" ry="1.4" fill="#0a0a14"/>
<path d="M245.15,43.80 L246.76,44.06 L247.68,44.32 L247.97,44.58 L248.14,44.84 L248.27,45.11 L248.43,45.37 L248.68,45.63 L248.98,45.89 L249.32,46.15 L249.71,46.41 L250.14,46.67 L250.61,46.93 L251.14,47.19 L251.76,47.45 L252.54,47.72 L253.43,47.98 L254.38,48.24 L255.35,48.50 L256.31,48.76 L257.22,49.02 L258.10,49.28 L258.98,49.54 L259.87,49.80 L260.76,50.06 L261.63,50.33 L262.48,50.59 L263.30,50.85 L264.25,51.11 L265.25,51.37 L266.10,51.63 L266.60,51.89 L266.42,52.15 L265.15,52.41 L263.24,52.67 L261.21,52.94 L259.57,53.20 L258.31,53.46 L257.08,53.72 L255.91,53.98 L254.81,54.24 L253.83,54.50 L252.98,54.76 L252.29,55.02 L251.74,55.28 L251.25,55.55 L250.83,55.81 L250.44,56.07 L250.06,56.33 L249.68,56.59 L249.27,56.85 L248.85,57.11 L248.45,57.37 L248.05,57.63 L247.64,57.89 L247.20,58.16 L246.74,58.42 L246.23,58.68 L245.70,58.94 L245.15,59.20 L245.15,59.20 L244.60,58.94 L244.07,58.68 L243.56,58.42 L243.10,58.16 L242.66,57.89 L242.25,57.63 L241.85,57.37 L241.45,57.11 L241.03,56.85 L240.62,56.59 L240.24,56.33 L239.86,56.07 L239.47,55.81 L239.05,55.55 L238.56,55.28 L238.01,55.02 L237.32,54.76 L236.47,54.50 L235.49,54.24 L234.39,53.98 L233.22,53.72 L231.99,53.46 L230.73,53.20 L229.09,52.94 L227.06,52.67 L225.15,52.41 L223.88,52.15 L223.70,51.89 L224.20,51.63 L225.05,51.37 L226.05,51.11 L227.00,50.85 L227.82,50.59 L228.67,50.33 L229.54,50.06 L230.43,49.80 L231.32,49.54 L232.20,49.28 L233.08,49.02 L233.99,48.76 L234.95,48.50 L235.92,48.24 L236.87,47.98 L237.76,47.72 L238.54,47.45 L239.16,47.19 L239.69,46.93 L240.16,46.67 L240.59,46.41 L240.98,46.15 L241.32,45.89 L241.62,45.63 L241.87,45.37 L242.03,45.11 L242.16,44.84 L242.33,44.58 L242.62,44.32 L243.54,44.06 L245.15,43.80 Z" fill="#F8766D" stroke="#000" stroke-width="0.6" stroke-linejoin="round"/>
<line x1="245.15" y1="43.8" x2="245.15" y2="59.2" stroke="#222" stroke-width="0.5" />
<rect x="241.0" y="49.7" width="8.300000000000011" height="4.399999999999999" fill="#fff" stroke="#000" stroke-width="0.6"/>
<line x1="241.0" y1="52.0" x2="249.3" y2="52.0" stroke="#222" stroke-width="0.9" />
<line x1="288.1" y1="38.7" x2="288.1" y2="65.4" stroke="#000" stroke-width="1.0" />
<ellipse cx="288.1" cy="63.2" rx="0.75" ry="1.6" fill="#0a0a14"/>
<path d="M288.10,44.60 L289.48,44.89 L290.57,45.19 L291.32,45.48 L291.94,45.78 L292.48,46.07 L292.97,46.37 L293.46,46.66 L293.99,46.96 L294.51,47.25 L295.02,47.55 L295.52,47.84 L296.01,48.14 L296.50,48.43 L296.99,48.73 L297.47,49.02 L297.96,49.32 L298.46,49.61 L298.98,49.91 L299.50,50.20 L300.02,50.50 L300.52,50.79 L301.00,51.09 L301.44,51.38 L301.86,51.68 L302.32,51.97 L302.71,52.27 L302.90,52.56 L302.81,52.86 L302.53,53.15 L302.10,53.45 L301.57,53.74 L300.99,54.04 L300.41,54.33 L299.87,54.63 L299.26,54.92 L298.59,55.22 L297.90,55.51 L297.22,55.81 L296.60,56.10 L296.01,56.40 L295.42,56.69 L294.85,56.99 L294.30,57.28 L293.78,57.58 L293.30,57.87 L292.86,58.17 L292.46,58.46 L292.08,58.76 L291.73,59.05 L291.38,59.35 L291.04,59.64 L290.68,59.94 L290.31,60.23 L289.94,60.53 L289.57,60.82 L289.21,61.12 L288.84,61.41 L288.47,61.71 L288.10,62.00 L288.10,62.00 L287.73,61.71 L287.36,61.41 L286.99,61.12 L286.63,60.82 L286.26,60.53 L285.89,60.23 L285.52,59.94 L285.16,59.64 L284.82,59.35 L284.47,59.05 L284.12,58.76 L283.74,58.46 L283.34,58.17 L282.90,57.87 L282.42,57.58 L281.90,57.28 L281.35,56.99 L280.78,56.69 L280.19,56.40 L279.60,56.10 L278.98,55.81 L278.30,55.51 L277.61,55.22 L276.94,54.92 L276.33,54.63 L275.79,54.33 L275.21,54.04 L274.63,53.74 L274.10,53.45 L273.67,53.15 L273.39,52.86 L273.30,52.56 L273.49,52.27 L273.88,51.97 L274.34,51.68 L274.76,51.38 L275.20,51.09 L275.68,50.79 L276.18,50.50 L276.70,50.20 L277.22,49.91 L277.74,49.61 L278.24,49.32 L278.73,49.02 L279.21,48.73 L279.70,48.43 L280.19,48.14 L280.68,47.84 L281.18,47.55 L281.69,47.25 L282.21,46.96 L282.74,46.66 L283.23,46.37 L283.72,46.07 L284.26,45.78 L284.88,45.48 L285.63,45.19 L286.72,44.89 L288.10,44.60 Z" fill="#7EB300" stroke="#000" stroke-width="0.6" stroke-linejoin="round"/>
<line x1="288.1" y1="44.6" x2="288.1" y2="62" stroke="#222" stroke-width="0.5" />
<rect x="284.0" y="50.7" width="8.200000000000045" height="5.299999999999997" fill="#fff" stroke="#000" stroke-width="0.6"/>
<line x1="284.0" y1="53.3" x2="292.20000000000005" y2="53.3" stroke="#222" stroke-width="0.9" />
<line x1="331.35" y1="37.9" x2="331.35" y2="67.6" stroke="#000" stroke-width="1.0" />
<ellipse cx="331.35" cy="41.8" rx="1.1" ry="1.8" fill="#0a0a14"/>
<ellipse cx="331.35" cy="64.8" rx="0.8" ry="1.6" fill="#0a0a14"/>
<path d="M331.35,44.60 L332.65,44.90 L332.97,45.20 L333.10,45.49 L333.19,45.79 L333.25,46.09 L333.32,46.39 L333.41,46.69 L333.48,46.99 L333.55,47.28 L333.63,47.58 L333.72,47.88 L333.84,48.18 L334.01,48.48 L334.50,48.78 L335.31,49.07 L336.29,49.37 L337.32,49.67 L338.27,49.97 L338.99,50.27 L339.61,50.57 L340.18,50.86 L340.72,51.16 L341.24,51.46 L341.73,51.76 L342.21,52.06 L342.67,52.36 L343.13,52.65 L343.63,52.95 L344.15,53.25 L344.69,53.55 L345.22,53.85 L345.72,54.15 L346.18,54.44 L346.56,54.74 L346.86,55.04 L347.05,55.34 L347.10,55.64 L346.84,55.94 L346.27,56.23 L345.53,56.53 L344.75,56.83 L344.06,57.13 L343.34,57.43 L342.57,57.73 L341.79,58.02 L340.97,58.32 L340.11,58.62 L339.23,58.92 L338.36,59.22 L337.52,59.52 L336.71,59.81 L335.96,60.11 L335.22,60.41 L334.52,60.71 L333.83,61.01 L333.18,61.31 L332.54,61.60 L331.93,61.90 L331.35,62.20 L331.35,62.20 L330.77,61.90 L330.16,61.60 L329.52,61.31 L328.87,61.01 L328.18,60.71 L327.48,60.41 L326.74,60.11 L325.99,59.81 L325.18,59.52 L324.34,59.22 L323.47,58.92 L322.59,58.62 L321.73,58.32 L320.91,58.02 L320.13,57.73 L319.36,57.43 L318.64,57.13 L317.95,56.83 L317.17,56.53 L316.43,56.23 L315.86,55.94 L315.60,55.64 L315.65,55.34 L315.84,55.04 L316.14,54.74 L316.52,54.44 L316.98,54.15 L317.48,53.85 L318.01,53.55 L318.55,53.25 L319.07,52.95 L319.57,52.65 L320.03,52.36 L320.49,52.06 L320.97,51.76 L321.46,51.46 L321.98,51.16 L322.52,50.86 L323.09,50.57 L323.71,50.27 L324.43,49.97 L325.38,49.67 L326.41,49.37 L327.39,49.07 L328.20,48.78 L328.69,48.48 L328.86,48.18 L328.98,47.88 L329.07,47.58 L329.15,47.28 L329.22,46.99 L329.29,46.69 L329.38,46.39 L329.45,46.09 L329.51,45.79 L329.60,45.49 L329.73,45.20 L330.05,44.90 L331.35,44.60 Z" fill="#00BFC4" stroke="#000" stroke-width="0.6" stroke-linejoin="round"/>
<line x1="331.35" y1="44.6" x2="331.35" y2="62.2" stroke="#222" stroke-width="0.5" />
<rect x="327.20000000000005" y="52.6" width="8.299999999999955" height="5.100000000000001" fill="#fff" stroke="#000" stroke-width="0.6"/>
<line x1="327.20000000000005" y1="55.1" x2="335.5" y2="55.1" stroke="#222" stroke-width="0.9" />
<line x1="374.5" y1="22.6" x2="374.5" y2="69.5" stroke="#000" stroke-width="1.0" />
<ellipse cx="374.5" cy="27.8" rx="1.0" ry="1.2" fill="#0a0a14"/>
<ellipse cx="374.5" cy="33.8" rx="1.1" ry="1.5" fill="#0a0a14"/>
<ellipse cx="374.5" cy="63.8" rx="1.0" ry="1.4" fill="#0a0a14"/>
<ellipse cx="374.5" cy="67.3" rx="0.9" ry="1.2" fill="#0a0a14"/>
<path d="M374.50,37.00 L375.43,37.42 L376.02,37.83 L376.27,38.25 L376.44,38.66 L376.58,39.08 L376.70,39.49 L376.86,39.91 L377.06,40.32 L377.27,40.74 L377.49,41.15 L377.72,41.57 L377.97,41.98 L378.25,42.40 L378.55,42.81 L378.90,43.23 L379.31,43.64 L379.78,44.06 L380.29,44.47 L380.83,44.89 L381.39,45.31 L381.94,45.72 L382.48,46.14 L383.06,46.55 L383.67,46.97 L384.25,47.38 L384.78,47.80 L385.23,48.21 L385.67,48.63 L385.85,49.04 L385.59,49.46 L385.06,49.87 L384.51,50.29 L384.00,50.70 L383.44,51.12 L382.88,51.53 L382.36,51.95 L381.89,52.36 L381.44,52.78 L381.01,53.19 L380.60,53.61 L380.19,54.03 L379.81,54.44 L379.43,54.86 L379.06,55.27 L378.71,55.69 L378.36,56.10 L378.03,56.52 L377.71,56.93 L377.39,57.35 L377.08,57.76 L376.77,58.18 L376.47,58.59 L376.18,59.01 L375.89,59.42 L375.61,59.84 L375.33,60.25 L375.05,60.67 L374.77,61.08 L374.50,61.50 L374.50,61.50 L374.23,61.08 L373.95,60.67 L373.67,60.25 L373.39,59.84 L373.11,59.42 L372.82,59.01 L372.53,58.59 L372.23,58.18 L371.92,57.76 L371.61,57.35 L371.29,56.93 L370.97,56.52 L370.64,56.10 L370.29,55.69 L369.94,55.27 L369.57,54.86 L369.19,54.44 L368.81,54.03 L368.40,53.61 L367.99,53.19 L367.56,52.78 L367.11,52.36 L366.64,51.95 L366.12,51.53 L365.56,51.12 L365.00,50.70 L364.49,50.29 L363.94,49.87 L363.41,49.46 L363.15,49.04 L363.33,48.63 L363.77,48.21 L364.22,47.80 L364.75,47.38 L365.33,46.97 L365.94,46.55 L366.52,46.14 L367.06,45.72 L367.61,45.31 L368.17,44.89 L368.71,44.47 L369.22,44.06 L369.69,43.64 L370.10,43.23 L370.45,42.81 L370.75,42.40 L371.03,41.98 L371.28,41.57 L371.51,41.15 L371.73,40.74 L371.94,40.32 L372.14,39.91 L372.30,39.49 L372.42,39.08 L372.56,38.66 L372.73,38.25 L372.98,37.83 L373.57,37.42 L374.50,37.00 Z" fill="#C77CFF" stroke="#000" stroke-width="0.6" stroke-linejoin="round"/>
<line x1="374.5" y1="37" x2="374.5" y2="61.5" stroke="#222" stroke-width="0.5" />
<rect x="370.35" y="47.2" width="8.299999999999955" height="4.799999999999997" fill="#fff" stroke="#000" stroke-width="0.6"/>
<line x1="370.35" y1="49.6" x2="378.65" y2="49.6" stroke="#222" stroke-width="0.9" />
<line x1="45.15" y1="229.8" x2="45.15" y2="250.2" stroke="#000" stroke-width="1.0" />
<path d="M45.15,233.40 L45.71,233.64 L46.18,233.89 L46.51,234.13 L46.76,234.38 L46.96,234.62 L47.19,234.86 L47.50,235.11 L47.91,235.35 L48.36,235.60 L48.83,235.84 L49.30,236.08 L49.79,236.33 L50.29,236.57 L50.80,236.82 L51.30,237.06 L51.79,237.31 L52.26,237.55 L52.71,237.79 L53.17,238.04 L53.63,238.28 L54.07,238.53 L54.49,238.77 L54.87,239.01 L55.19,239.26 L55.46,239.50 L55.71,239.75 L55.97,239.99 L56.20,240.23 L56.40,240.48 L56.56,240.72 L56.66,240.97 L56.70,241.21 L56.62,241.45 L56.41,241.70 L56.11,241.94 L55.78,242.19 L55.44,242.43 L55.11,242.67 L54.74,242.92 L54.33,243.16 L53.90,243.41 L53.46,243.65 L53.00,243.89 L52.52,244.14 L52.02,244.38 L51.52,244.63 L51.01,244.87 L50.51,245.12 L50.03,245.36 L49.57,245.60 L49.12,245.85 L48.68,246.09 L48.24,246.34 L47.78,246.58 L47.30,246.82 L46.79,247.07 L46.26,247.31 L45.71,247.56 L45.15,247.80 L45.15,247.80 L44.59,247.56 L44.04,247.31 L43.51,247.07 L43.00,246.82 L42.52,246.58 L42.06,246.34 L41.62,246.09 L41.18,245.85 L40.73,245.60 L40.27,245.36 L39.79,245.12 L39.29,244.87 L38.78,244.63 L38.28,244.38 L37.78,244.14 L37.30,243.89 L36.84,243.65 L36.40,243.41 L35.97,243.16 L35.56,242.92 L35.19,242.67 L34.86,242.43 L34.52,242.19 L34.19,241.94 L33.89,241.70 L33.68,241.45 L33.60,241.21 L33.64,240.97 L33.74,240.72 L33.90,240.48 L34.10,240.23 L34.33,239.99 L34.59,239.75 L34.84,239.50 L35.11,239.26 L35.43,239.01 L35.81,238.77 L36.23,238.53 L36.67,238.28 L37.13,238.04 L37.59,237.79 L38.04,237.55 L38.51,237.31 L39.00,237.06 L39.50,236.82 L40.01,236.57 L40.51,236.33 L41.00,236.08 L41.47,235.84 L41.94,235.60 L42.39,235.35 L42.80,235.11 L43.11,234.86 L43.34,234.62 L43.54,234.38 L43.79,234.13 L44.12,233.89 L44.59,233.64 L45.15,233.40 Z" fill="#F8766D" stroke="#000" stroke-width="0.6" stroke-linejoin="round"/>
<line x1="45.15" y1="233.4" x2="45.15" y2="247.8" stroke="#222" stroke-width="0.5" />
<rect x="41.0" y="239.4" width="8.299999999999997" height="4.199999999999989" fill="#fff" stroke="#000" stroke-width="0.6"/>
<line x1="41.0" y1="241.3" x2="49.3" y2="241.3" stroke="#222" stroke-width="0.9" />
<line x1="87.6" y1="238.3" x2="87.6" y2="251" stroke="#000" stroke-width="1.0" />
<circle cx="87.6" cy="238.8" r="0.85" fill="#000"/>
<path d="M87.60,239.70 L88.02,239.87 L88.46,240.05 L88.92,240.22 L89.41,240.40 L89.91,240.57 L90.44,240.75 L90.98,240.92 L91.55,241.10 L92.15,241.27 L92.77,241.45 L93.41,241.62 L94.08,241.79 L94.78,241.97 L95.53,242.14 L96.33,242.32 L97.17,242.49 L98.02,242.67 L98.88,242.84 L99.74,243.02 L100.59,243.19 L101.40,243.37 L102.18,243.54 L103.02,243.72 L103.93,243.89 L104.87,244.06 L105.81,244.24 L106.69,244.41 L107.48,244.59 L108.13,244.76 L108.61,244.94 L108.87,245.11 L108.79,245.29 L107.97,245.46 L106.59,245.64 L104.88,245.81 L103.12,245.98 L101.55,246.16 L100.42,246.33 L99.54,246.51 L98.74,246.68 L98.01,246.86 L97.32,247.03 L96.66,247.21 L96.03,247.38 L95.40,247.56 L94.80,247.73 L94.23,247.91 L93.67,248.08 L93.14,248.25 L92.60,248.43 L92.06,248.60 L91.51,248.78 L90.95,248.95 L90.39,249.13 L89.83,249.30 L89.28,249.48 L88.72,249.65 L88.16,249.83 L87.60,250.00 L87.60,250.00 L87.04,249.83 L86.48,249.65 L85.92,249.48 L85.37,249.30 L84.81,249.13 L84.25,248.95 L83.69,248.78 L83.14,248.60 L82.60,248.43 L82.06,248.25 L81.53,248.08 L80.97,247.91 L80.40,247.73 L79.80,247.56 L79.17,247.38 L78.54,247.21 L77.88,247.03 L77.19,246.86 L76.46,246.68 L75.66,246.51 L74.78,246.33 L73.65,246.16 L72.08,245.98 L70.32,245.81 L68.61,245.64 L67.23,245.46 L66.41,245.29 L66.33,245.11 L66.59,244.94 L67.07,244.76 L67.72,244.59 L68.51,244.41 L69.39,244.24 L70.33,244.06 L71.27,243.89 L72.18,243.72 L73.02,243.54 L73.80,243.37 L74.61,243.19 L75.46,243.02 L76.32,242.84 L77.18,242.67 L78.03,242.49 L78.87,242.32 L79.67,242.14 L80.42,241.97 L81.12,241.79 L81.79,241.62 L82.43,241.45 L83.05,241.27 L83.65,241.10 L84.22,240.92 L84.76,240.75 L85.29,240.57 L85.79,240.40 L86.28,240.22 L86.74,240.05 L87.18,239.87 L87.60,239.70 Z" fill="#7EB300" stroke="#000" stroke-width="0.6" stroke-linejoin="round"/>
<line x1="87.6" y1="239.7" x2="87.6" y2="250" stroke="#222" stroke-width="0.5" />
<rect x="83.19999999999999" y="243.5" width="8.800000000000011" height="3.0" fill="#fff" stroke="#000" stroke-width="0.5"/>
<line x1="83.19999999999999" y1="245.0" x2="92.0" y2="245.0" stroke="#222" stroke-width="0.9" />
<line x1="130.25" y1="218.2" x2="130.25" y2="250" stroke="#000" stroke-width="1.0" />
<circle cx="130.25" cy="219" r="0.85" fill="#000"/>
<circle cx="130.25" cy="222.5" r="0.85" fill="#000"/>
<circle cx="130.25" cy="226" r="0.85" fill="#000"/>
<ellipse cx="130.25" cy="232.6" rx="1.0" ry="1.9" fill="#0a0a14"/>
<path d="M130.25,235.00 L130.91,235.24 L131.51,235.49 L132.00,235.73 L132.43,235.98 L132.82,236.22 L133.19,236.46 L133.53,236.71 L133.86,236.95 L134.18,237.20 L134.50,237.44 L134.82,237.68 L135.13,237.93 L135.43,238.17 L135.71,238.42 L136.00,238.66 L136.28,238.91 L136.55,239.15 L136.83,239.39 L137.12,239.64 L137.41,239.88 L137.70,240.13 L138.01,240.37 L138.34,240.61 L138.70,240.86 L139.07,241.10 L139.43,241.35 L139.77,241.59 L140.08,241.83 L140.33,242.08 L140.58,242.32 L140.82,242.57 L141.04,242.81 L141.20,243.05 L141.29,243.30 L141.26,243.54 L141.04,243.79 L140.69,244.03 L140.28,244.27 L139.87,244.52 L139.51,244.76 L139.12,245.01 L138.72,245.25 L138.29,245.49 L137.86,245.74 L137.41,245.98 L136.95,246.23 L136.47,246.47 L135.97,246.72 L135.47,246.96 L134.97,247.20 L134.46,247.45 L133.96,247.69 L133.46,247.94 L132.95,248.18 L132.43,248.42 L131.90,248.67 L131.36,248.91 L130.81,249.16 L130.25,249.40 L130.25,249.40 L129.69,249.16 L129.14,248.91 L128.60,248.67 L128.07,248.42 L127.55,248.18 L127.04,247.94 L126.54,247.69 L126.04,247.45 L125.53,247.20 L125.03,246.96 L124.53,246.72 L124.03,246.47 L123.55,246.23 L123.09,245.98 L122.64,245.74 L122.21,245.49 L121.78,245.25 L121.38,245.01 L120.99,244.76 L120.63,244.52 L120.22,244.27 L119.81,244.03 L119.46,243.79 L119.24,243.54 L119.21,243.30 L119.30,243.05 L119.46,242.81 L119.68,242.57 L119.92,242.32 L120.17,242.08 L120.42,241.83 L120.73,241.59 L121.07,241.35 L121.43,241.10 L121.80,240.86 L122.16,240.61 L122.49,240.37 L122.80,240.13 L123.09,239.88 L123.38,239.64 L123.67,239.39 L123.95,239.15 L124.22,238.91 L124.50,238.66 L124.79,238.42 L125.07,238.17 L125.37,237.93 L125.68,237.68 L126.00,237.44 L126.32,237.20 L126.64,236.95 L126.97,236.71 L127.31,236.46 L127.68,236.22 L128.07,235.98 L128.50,235.73 L128.99,235.49 L129.59,235.24 L130.25,235.00 Z" fill="#00BFC4" stroke="#000" stroke-width="0.6" stroke-linejoin="round"/>
<line x1="130.25" y1="235" x2="130.25" y2="249.4" stroke="#222" stroke-width="0.5" />
<rect x="126.1" y="240.4" width="8.300000000000011" height="4.199999999999989" fill="#fff" stroke="#000" stroke-width="0.6"/>
<line x1="126.1" y1="242.6" x2="134.4" y2="242.6" stroke="#222" stroke-width="0.9" />
<line x1="172.2" y1="200.3" x2="172.2" y2="250.5" stroke="#000" stroke-width="1.0" />
<ellipse cx="172.2" cy="216" rx="0.8" ry="6.2" fill="#0a0a14"/>
<ellipse cx="172.2" cy="221" rx="1.0" ry="1.5" fill="#0a0a14"/>
<path d="M172.20,220.00 L172.61,220.51 L172.98,221.02 L173.29,221.53 L173.56,222.03 L173.82,222.54 L174.08,223.05 L174.34,223.56 L174.58,224.07 L174.82,224.58 L175.04,225.08 L175.24,225.59 L175.45,226.10 L175.64,226.61 L175.82,227.12 L175.99,227.63 L176.14,228.14 L176.29,228.64 L176.45,229.15 L176.58,229.66 L176.67,230.17 L176.71,230.68 L176.73,231.19 L176.75,231.69 L176.77,232.20 L176.79,232.71 L176.79,233.22 L176.80,233.73 L176.80,234.24 L176.80,234.75 L176.79,235.25 L176.78,235.76 L176.77,236.27 L176.75,236.78 L176.73,237.29 L176.71,237.80 L176.68,238.31 L176.63,238.81 L176.55,239.32 L176.45,239.83 L176.35,240.34 L176.23,240.85 L176.11,241.36 L175.97,241.86 L175.81,242.37 L175.63,242.88 L175.44,243.39 L175.24,243.90 L175.04,244.41 L174.81,244.92 L174.58,245.42 L174.33,245.93 L174.08,246.44 L173.83,246.95 L173.57,247.46 L173.31,247.97 L173.04,248.47 L172.77,248.98 L172.49,249.49 L172.20,250.00 L172.20,250.00 L171.91,249.49 L171.63,248.98 L171.36,248.47 L171.09,247.97 L170.83,247.46 L170.57,246.95 L170.32,246.44 L170.07,245.93 L169.82,245.42 L169.59,244.92 L169.36,244.41 L169.16,243.90 L168.96,243.39 L168.77,242.88 L168.59,242.37 L168.43,241.86 L168.29,241.36 L168.17,240.85 L168.05,240.34 L167.95,239.83 L167.85,239.32 L167.77,238.81 L167.72,238.31 L167.69,237.80 L167.67,237.29 L167.65,236.78 L167.63,236.27 L167.62,235.76 L167.61,235.25 L167.60,234.75 L167.60,234.24 L167.60,233.73 L167.61,233.22 L167.61,232.71 L167.63,232.20 L167.65,231.69 L167.67,231.19 L167.69,230.68 L167.73,230.17 L167.82,229.66 L167.95,229.15 L168.11,228.64 L168.26,228.14 L168.41,227.63 L168.58,227.12 L168.76,226.61 L168.95,226.10 L169.16,225.59 L169.36,225.08 L169.58,224.58 L169.82,224.07 L170.06,223.56 L170.32,223.05 L170.58,222.54 L170.84,222.03 L171.11,221.53 L171.42,221.02 L171.79,220.51 L172.20,220.00 Z" fill="#C77CFF" stroke="#000" stroke-width="0.6" stroke-linejoin="round"/>
<line x1="172.2" y1="220" x2="172.2" y2="250" stroke="#222" stroke-width="0.5" />
<rect x="168.29999999999998" y="230.6" width="7.800000000000011" height="8.700000000000017" fill="#fff" stroke="#000" stroke-width="0.65"/>
<line x1="168.29999999999998" y1="233.3" x2="176.1" y2="233.3" stroke="#222" stroke-width="0.9" />
<path d="M43.00,156.40 L43.54,156.44 L44.06,156.49 L44.58,156.53 L45.08,156.58 L45.56,156.62 L46.02,156.66 L46.46,156.71 L46.89,156.75 L47.28,156.80 L47.65,156.84 L48.00,156.88 L48.31,156.93 L48.59,156.97 L48.84,157.02 L49.05,157.06 L49.25,157.11 L49.45,157.15 L49.65,157.19 L49.84,157.24 L50.02,157.28 L50.20,157.33 L50.36,157.37 L50.50,157.41 L50.63,157.46 L50.75,157.50 L50.84,157.55 L50.92,157.59 L50.97,157.63 L51.00,157.68 L51.00,157.72 L50.97,157.77 L50.92,157.81 L50.84,157.85 L50.75,157.90 L50.63,157.94 L50.50,157.99 L50.36,158.03 L50.20,158.07 L50.02,158.12 L49.84,158.16 L49.65,158.21 L49.45,158.25 L49.25,158.29 L49.05,158.34 L48.84,158.38 L48.59,158.43 L48.31,158.47 L48.00,158.52 L47.65,158.56 L47.28,158.60 L46.89,158.65 L46.46,158.69 L46.02,158.74 L45.56,158.78 L45.08,158.82 L44.58,158.87 L44.06,158.91 L43.54,158.96 L43.00,159.00 L43.00,159.00 L42.46,158.96 L41.94,158.91 L41.42,158.87 L40.92,158.82 L40.44,158.78 L39.98,158.74 L39.54,158.69 L39.11,158.65 L38.72,158.60 L38.35,158.56 L38.00,158.52 L37.69,158.47 L37.41,158.43 L37.16,158.38 L36.95,158.34 L36.75,158.29 L36.55,158.25 L36.35,158.21 L36.16,158.16 L35.98,158.12 L35.80,158.07 L35.64,158.03 L35.50,157.99 L35.37,157.94 L35.25,157.90 L35.16,157.85 L35.08,157.81 L35.03,157.77 L35.00,157.72 L35.00,157.68 L35.03,157.63 L35.08,157.59 L35.16,157.55 L35.25,157.50 L35.37,157.46 L35.50,157.41 L35.64,157.37 L35.80,157.33 L35.98,157.28 L36.16,157.24 L36.35,157.19 L36.55,157.15 L36.75,157.11 L36.95,157.06 L37.16,157.02 L37.41,156.97 L37.69,156.93 L38.00,156.88 L38.35,156.84 L38.72,156.80 L39.11,156.75 L39.54,156.71 L39.98,156.66 L40.44,156.62 L40.92,156.58 L41.42,156.53 L41.94,156.49 L42.46,156.44 L43.00,156.40 Z" fill="#c46b66" stroke="none" stroke-width="0.0" stroke-linejoin="round"/>
<line x1="21.1" y1="157.7" x2="64.9" y2="157.7" stroke="#3a3a3a" stroke-width="1.3" stroke-opacity="0.8"/>
<ellipse cx="43.0" cy="157.7" rx="5.3" ry="0.85" fill="#111"/>
<path d="M85.20,156.50 L86.14,156.53 L87.06,156.57 L87.96,156.60 L88.83,156.64 L89.68,156.67 L90.49,156.70 L91.26,156.74 L92.00,156.77 L92.69,156.81 L93.34,156.84 L93.94,156.87 L94.49,156.91 L94.98,156.94 L95.42,156.97 L95.79,157.01 L96.14,157.04 L96.49,157.08 L96.84,157.11 L97.17,157.14 L97.49,157.18 L97.79,157.21 L98.07,157.25 L98.33,157.28 L98.56,157.31 L98.76,157.35 L98.93,157.38 L99.06,157.42 L99.15,157.45 L99.19,157.48 L99.19,157.52 L99.15,157.55 L99.06,157.58 L98.93,157.62 L98.76,157.65 L98.56,157.69 L98.33,157.72 L98.07,157.75 L97.79,157.79 L97.49,157.82 L97.17,157.86 L96.84,157.89 L96.49,157.92 L96.14,157.96 L95.79,157.99 L95.42,158.03 L94.98,158.06 L94.49,158.09 L93.94,158.13 L93.34,158.16 L92.69,158.19 L92.00,158.23 L91.26,158.26 L90.49,158.30 L89.68,158.33 L88.83,158.36 L87.96,158.40 L87.06,158.43 L86.14,158.47 L85.20,158.50 L85.20,158.50 L84.26,158.47 L83.34,158.43 L82.44,158.40 L81.57,158.36 L80.72,158.33 L79.91,158.30 L79.14,158.26 L78.40,158.23 L77.71,158.19 L77.06,158.16 L76.46,158.13 L75.91,158.09 L75.42,158.06 L74.98,158.03 L74.61,157.99 L74.26,157.96 L73.91,157.92 L73.56,157.89 L73.23,157.86 L72.91,157.82 L72.61,157.79 L72.33,157.75 L72.07,157.72 L71.84,157.69 L71.64,157.65 L71.47,157.62 L71.34,157.58 L71.25,157.55 L71.21,157.52 L71.21,157.48 L71.25,157.45 L71.34,157.42 L71.47,157.38 L71.64,157.35 L71.84,157.31 L72.07,157.28 L72.33,157.25 L72.61,157.21 L72.91,157.18 L73.23,157.14 L73.56,157.11 L73.91,157.08 L74.26,157.04 L74.61,157.01 L74.98,156.97 L75.42,156.94 L75.91,156.91 L76.46,156.87 L77.06,156.84 L77.71,156.81 L78.40,156.77 L79.14,156.74 L79.91,156.70 L80.72,156.67 L81.57,156.64 L82.44,156.60 L83.34,156.57 L84.26,156.53 L85.20,156.50 Z" fill="#5a7a10" stroke="none" stroke-width="0.0" stroke-linejoin="round"/>
<line x1="64.0" y1="157.5" x2="106.4" y2="157.5" stroke="#2a2a2a" stroke-width="1.2" stroke-opacity="0.85"/>
<ellipse cx="85.2" cy="157.5" rx="3.5" ry="0.9" fill="#111"/>
<line x1="85.2" y1="155.6" x2="85.2" y2="157.5" stroke="#111" stroke-width="1.1"/>
<circle cx="85.2" cy="156.0" r="0.7" fill="#111"/>
<line x1="128.8" y1="132.4" x2="128.8" y2="157" stroke="#999" stroke-width="0.9" />
<circle cx="128.8" cy="132.8" r="0.8" fill="#000"/>
<line x1="128.8" y1="145" x2="128.8" y2="146.6" stroke="#000" stroke-width="1.3" />
<line x1="128.8" y1="150.6" x2="128.8" y2="157" stroke="#000" stroke-width="1.3" />
<path d="M129.30,156.50 L129.57,156.54 L129.83,156.58 L130.09,156.62 L130.34,156.66 L130.58,156.70 L130.81,156.74 L131.03,156.78 L131.24,156.83 L131.44,156.87 L131.63,156.91 L131.80,156.95 L131.95,156.99 L132.09,157.03 L132.22,157.07 L132.33,157.11 L132.43,157.15 L132.53,157.19 L132.63,157.23 L132.72,157.27 L132.81,157.31 L132.90,157.35 L132.98,157.39 L133.05,157.44 L133.12,157.48 L133.17,157.52 L133.22,157.56 L133.26,157.60 L133.29,157.64 L133.30,157.68 L133.30,157.72 L133.29,157.76 L133.26,157.80 L133.22,157.84 L133.17,157.88 L133.12,157.92 L133.05,157.96 L132.98,158.01 L132.90,158.05 L132.81,158.09 L132.72,158.13 L132.63,158.17 L132.53,158.21 L132.43,158.25 L132.33,158.29 L132.22,158.33 L132.09,158.37 L131.95,158.41 L131.80,158.45 L131.63,158.49 L131.44,158.53 L131.24,158.57 L131.03,158.62 L130.81,158.66 L130.58,158.70 L130.34,158.74 L130.09,158.78 L129.83,158.82 L129.57,158.86 L129.30,158.90 L129.30,158.90 L129.03,158.86 L128.77,158.82 L128.51,158.78 L128.26,158.74 L128.02,158.70 L127.79,158.66 L127.57,158.62 L127.36,158.57 L127.16,158.53 L126.97,158.49 L126.80,158.45 L126.65,158.41 L126.51,158.37 L126.38,158.33 L126.27,158.29 L126.17,158.25 L126.07,158.21 L125.97,158.17 L125.88,158.13 L125.79,158.09 L125.70,158.05 L125.62,158.01 L125.55,157.96 L125.48,157.92 L125.43,157.88 L125.38,157.84 L125.34,157.80 L125.31,157.76 L125.30,157.72 L125.30,157.68 L125.31,157.64 L125.34,157.60 L125.38,157.56 L125.43,157.52 L125.48,157.48 L125.55,157.44 L125.62,157.39 L125.70,157.35 L125.79,157.31 L125.88,157.27 L125.97,157.23 L126.07,157.19 L126.17,157.15 L126.27,157.11 L126.38,157.07 L126.51,157.03 L126.65,156.99 L126.80,156.95 L126.97,156.91 L127.16,156.87 L127.36,156.83 L127.57,156.78 L127.79,156.74 L128.02,156.70 L128.26,156.66 L128.51,156.62 L128.77,156.58 L129.03,156.54 L129.30,156.50 Z" fill="#1f6e6e" stroke="none" stroke-width="0.0" stroke-linejoin="round"/>
<line x1="119.80000000000001" y1="157.7" x2="138.8" y2="157.7" stroke="#1e3a38" stroke-width="1.5" stroke-opacity="0.95"/>
<ellipse cx="129.3" cy="157.7" rx="3.2" ry="0.9" fill="#111"/>
<line x1="171.9" y1="118" x2="171.9" y2="153" stroke="#555" stroke-width="0.8" />
<circle cx="171.9" cy="118.4" r="0.95" fill="#000"/>
<circle cx="171.9" cy="131.3" r="0.95" fill="#000"/>
<circle cx="171.9" cy="138.6" r="0.95" fill="#000"/>
<circle cx="171.9" cy="145.7" r="0.95" fill="#000"/>
<circle cx="171.9" cy="147.5" r="0.95" fill="#000"/>
<circle cx="171.9" cy="149.3" r="0.95" fill="#000"/>
<line x1="171.9" y1="150.8" x2="171.9" y2="152.6" stroke="#000" stroke-width="1.4" />
<path d="M172.10,152.60 L172.85,152.73 L173.55,152.86 L174.18,152.99 L174.68,153.12 L175.03,153.25 L175.33,153.38 L175.61,153.51 L175.85,153.64 L176.07,153.77 L176.24,153.91 L176.38,154.04 L176.48,154.17 L176.55,154.30 L176.61,154.43 L176.66,154.56 L176.71,154.69 L176.75,154.82 L176.78,154.95 L176.79,155.08 L176.80,155.21 L176.78,155.34 L176.72,155.47 L176.63,155.60 L176.53,155.73 L176.41,155.86 L176.29,155.99 L176.17,156.12 L176.05,156.25 L175.93,156.38 L175.80,156.52 L175.66,156.65 L175.51,156.78 L175.36,156.91 L175.21,157.04 L175.06,157.17 L174.91,157.30 L174.77,157.43 L174.64,157.56 L174.51,157.69 L174.39,157.82 L174.26,157.95 L174.14,158.08 L174.02,158.21 L173.90,158.34 L173.78,158.47 L173.66,158.60 L173.54,158.73 L173.43,158.86 L173.30,158.99 L173.18,159.13 L173.06,159.26 L172.94,159.39 L172.82,159.52 L172.70,159.65 L172.58,159.78 L172.46,159.91 L172.34,160.04 L172.22,160.17 L172.10,160.30 L172.10,160.30 L171.98,160.17 L171.86,160.04 L171.74,159.91 L171.62,159.78 L171.50,159.65 L171.38,159.52 L171.26,159.39 L171.14,159.26 L171.02,159.13 L170.90,158.99 L170.77,158.86 L170.66,158.73 L170.54,158.60 L170.42,158.47 L170.30,158.34 L170.18,158.21 L170.06,158.08 L169.94,157.95 L169.81,157.82 L169.69,157.69 L169.56,157.56 L169.43,157.43 L169.29,157.30 L169.14,157.17 L168.99,157.04 L168.84,156.91 L168.69,156.78 L168.54,156.65 L168.40,156.52 L168.27,156.38 L168.15,156.25 L168.03,156.12 L167.91,155.99 L167.79,155.86 L167.67,155.73 L167.57,155.60 L167.48,155.47 L167.42,155.34 L167.40,155.21 L167.41,155.08 L167.42,154.95 L167.45,154.82 L167.49,154.69 L167.54,154.56 L167.59,154.43 L167.65,154.30 L167.72,154.17 L167.82,154.04 L167.96,153.91 L168.13,153.77 L168.35,153.64 L168.59,153.51 L168.87,153.38 L169.17,153.25 L169.52,153.12 L170.02,152.99 L170.65,152.86 L171.35,152.73 L172.10,152.60 Z" fill="#a27fc0" stroke="#444" stroke-width="0.5" stroke-linejoin="round"/>
<rect x="169.6" y="153.3" width="5.0" height="2.8" fill="#d8d2dc" stroke="#555" stroke-width="0.5"/>
<path d="M242.80,144.80 L243.20,144.83 L243.60,144.87 L243.98,144.90 L244.36,144.94 L244.72,144.97 L245.07,145.00 L245.40,145.04 L245.71,145.07 L246.01,145.11 L246.29,145.14 L246.55,145.17 L246.78,145.21 L246.99,145.24 L247.18,145.27 L247.34,145.31 L247.49,145.34 L247.64,145.38 L247.79,145.41 L247.93,145.44 L248.07,145.48 L248.20,145.51 L248.32,145.55 L248.43,145.58 L248.53,145.61 L248.61,145.65 L248.68,145.68 L248.74,145.72 L248.78,145.75 L248.80,145.78 L248.80,145.82 L248.78,145.85 L248.74,145.88 L248.68,145.92 L248.61,145.95 L248.53,145.99 L248.43,146.02 L248.32,146.05 L248.20,146.09 L248.07,146.12 L247.93,146.16 L247.79,146.19 L247.64,146.22 L247.49,146.26 L247.34,146.29 L247.18,146.33 L246.99,146.36 L246.78,146.39 L246.55,146.43 L246.29,146.46 L246.01,146.49 L245.71,146.53 L245.40,146.56 L245.07,146.60 L244.72,146.63 L244.36,146.66 L243.98,146.70 L243.60,146.73 L243.20,146.77 L242.80,146.80 L242.80,146.80 L242.40,146.77 L242.00,146.73 L241.62,146.70 L241.24,146.66 L240.88,146.63 L240.53,146.60 L240.20,146.56 L239.89,146.53 L239.59,146.49 L239.31,146.46 L239.05,146.43 L238.82,146.39 L238.61,146.36 L238.42,146.33 L238.26,146.29 L238.11,146.26 L237.96,146.22 L237.81,146.19 L237.67,146.16 L237.53,146.12 L237.40,146.09 L237.28,146.05 L237.17,146.02 L237.07,145.99 L236.99,145.95 L236.92,145.92 L236.86,145.88 L236.82,145.85 L236.80,145.82 L236.80,145.78 L236.82,145.75 L236.86,145.72 L236.92,145.68 L236.99,145.65 L237.07,145.61 L237.17,145.58 L237.28,145.55 L237.40,145.51 L237.53,145.48 L237.67,145.44 L237.81,145.41 L237.96,145.38 L238.11,145.34 L238.26,145.31 L238.42,145.27 L238.61,145.24 L238.82,145.21 L239.05,145.17 L239.31,145.14 L239.59,145.11 L239.89,145.07 L240.20,145.04 L240.53,145.00 L240.88,144.97 L241.24,144.94 L241.62,144.90 L242.00,144.87 L242.40,144.83 L242.80,144.80 Z" fill="#b06a66" stroke="none" stroke-width="0.0" stroke-linejoin="round"/>
<line x1="222.8" y1="145.8" x2="262.8" y2="145.8" stroke="#3a3030" stroke-width="1.4" stroke-opacity="0.85"/>
<ellipse cx="242.8" cy="145.8" rx="4.6" ry="0.9" fill="#111"/>
<line x1="242.8" y1="143.2" x2="242.8" y2="145.8" stroke="#111" stroke-width="1.1"/>
<circle cx="242.8" cy="143.6" r="0.7" fill="#111"/>
<line x1="286.6" y1="133" x2="286.6" y2="145.8" stroke="#000" stroke-width="0.7" />
<circle cx="286.6" cy="133.2" r="0.9" fill="#000"/>
<path d="M286.70,145.10 L287.51,145.13 L288.30,145.16 L289.07,145.19 L289.81,145.22 L290.54,145.25 L291.23,145.28 L291.90,145.31 L292.53,145.34 L293.12,145.37 L293.68,145.41 L294.19,145.44 L294.66,145.47 L295.08,145.50 L295.46,145.53 L295.78,145.56 L296.08,145.59 L296.38,145.62 L296.68,145.65 L296.96,145.68 L297.23,145.71 L297.49,145.74 L297.73,145.77 L297.95,145.80 L298.15,145.83 L298.32,145.86 L298.47,145.89 L298.58,145.92 L298.66,145.95 L298.69,145.98 L298.69,146.02 L298.66,146.05 L298.58,146.08 L298.47,146.11 L298.32,146.14 L298.15,146.17 L297.95,146.20 L297.73,146.23 L297.49,146.26 L297.23,146.29 L296.96,146.32 L296.68,146.35 L296.38,146.38 L296.08,146.41 L295.78,146.44 L295.46,146.47 L295.08,146.50 L294.66,146.53 L294.19,146.56 L293.68,146.59 L293.12,146.63 L292.53,146.66 L291.90,146.69 L291.23,146.72 L290.54,146.75 L289.81,146.78 L289.07,146.81 L288.30,146.84 L287.51,146.87 L286.70,146.90 L286.70,146.90 L285.89,146.87 L285.10,146.84 L284.33,146.81 L283.59,146.78 L282.86,146.75 L282.17,146.72 L281.50,146.69 L280.87,146.66 L280.28,146.63 L279.72,146.59 L279.21,146.56 L278.74,146.53 L278.32,146.50 L277.94,146.47 L277.62,146.44 L277.32,146.41 L277.02,146.38 L276.72,146.35 L276.44,146.32 L276.17,146.29 L275.91,146.26 L275.67,146.23 L275.45,146.20 L275.25,146.17 L275.08,146.14 L274.93,146.11 L274.82,146.08 L274.74,146.05 L274.71,146.02 L274.71,145.98 L274.74,145.95 L274.82,145.92 L274.93,145.89 L275.08,145.86 L275.25,145.83 L275.45,145.80 L275.67,145.77 L275.91,145.74 L276.17,145.71 L276.44,145.68 L276.72,145.65 L277.02,145.62 L277.32,145.59 L277.62,145.56 L277.94,145.53 L278.32,145.50 L278.74,145.47 L279.21,145.44 L279.72,145.41 L280.28,145.37 L280.87,145.34 L281.50,145.31 L282.17,145.28 L282.86,145.25 L283.59,145.22 L284.33,145.19 L285.10,145.16 L285.89,145.13 L286.70,145.10 Z" fill="#5a7a10" stroke="none" stroke-width="0.0" stroke-linejoin="round"/>
<line x1="263.9" y1="146.0" x2="309.5" y2="146.0" stroke="#2a2a20" stroke-width="1.3" stroke-opacity="0.85"/>
<ellipse cx="286.7" cy="146.0" rx="5.0" ry="0.9" fill="#111"/>
<path d="M330.60,145.00 L331.41,145.03 L332.20,145.07 L332.97,145.10 L333.71,145.14 L334.44,145.17 L335.13,145.20 L335.80,145.24 L336.43,145.27 L337.02,145.31 L337.58,145.34 L338.09,145.37 L338.56,145.41 L338.98,145.44 L339.36,145.47 L339.68,145.51 L339.98,145.54 L340.28,145.58 L340.58,145.61 L340.86,145.64 L341.13,145.68 L341.39,145.71 L341.63,145.75 L341.85,145.78 L342.05,145.81 L342.22,145.85 L342.37,145.88 L342.48,145.92 L342.56,145.95 L342.59,145.98 L342.59,146.02 L342.56,146.05 L342.48,146.08 L342.37,146.12 L342.22,146.15 L342.05,146.19 L341.85,146.22 L341.63,146.25 L341.39,146.29 L341.13,146.32 L340.86,146.36 L340.58,146.39 L340.28,146.42 L339.98,146.46 L339.68,146.49 L339.36,146.53 L338.98,146.56 L338.56,146.59 L338.09,146.63 L337.58,146.66 L337.02,146.69 L336.43,146.73 L335.80,146.76 L335.13,146.80 L334.44,146.83 L333.71,146.86 L332.97,146.90 L332.20,146.93 L331.41,146.97 L330.60,147.00 L330.60,147.00 L329.79,146.97 L329.00,146.93 L328.23,146.90 L327.49,146.86 L326.76,146.83 L326.07,146.80 L325.40,146.76 L324.77,146.73 L324.18,146.69 L323.62,146.66 L323.11,146.63 L322.64,146.59 L322.22,146.56 L321.84,146.53 L321.52,146.49 L321.22,146.46 L320.92,146.42 L320.62,146.39 L320.34,146.36 L320.07,146.32 L319.81,146.29 L319.57,146.25 L319.35,146.22 L319.15,146.19 L318.98,146.15 L318.83,146.12 L318.72,146.08 L318.64,146.05 L318.61,146.02 L318.61,145.98 L318.64,145.95 L318.72,145.92 L318.83,145.88 L318.98,145.85 L319.15,145.81 L319.35,145.78 L319.57,145.75 L319.81,145.71 L320.07,145.68 L320.34,145.64 L320.62,145.61 L320.92,145.58 L321.22,145.54 L321.52,145.51 L321.84,145.47 L322.22,145.44 L322.64,145.41 L323.11,145.37 L323.62,145.34 L324.18,145.31 L324.77,145.27 L325.40,145.24 L326.07,145.20 L326.76,145.17 L327.49,145.14 L328.23,145.10 L329.00,145.07 L329.79,145.03 L330.60,145.00 Z" fill="#1a8a8c" stroke="none" stroke-width="0.0" stroke-linejoin="round"/>
<line x1="310.0" y1="146.0" x2="351.20000000000005" y2="146.0" stroke="#1e3a38" stroke-width="1.3" stroke-opacity="0.9"/>
<ellipse cx="330.6" cy="146.0" rx="4.7" ry="0.9" fill="#111"/>
<line x1="330.6" y1="144.0" x2="330.6" y2="146.0" stroke="#111" stroke-width="1.1"/>
<circle cx="330.6" cy="144.4" r="0.7" fill="#111"/>
<line x1="374.0" y1="100" x2="374.0" y2="132" stroke="#2a1a3a" stroke-width="0.8" />
<path d="M374.00,146.00 L375.37,146.24 L376.20,146.48 L376.20,146.73 L376.18,146.97 L376.15,147.21 L376.12,147.45 L376.08,147.70 L376.04,147.94 L375.99,148.18 L375.93,148.42 L375.88,148.67 L375.82,148.91 L375.77,149.15 L375.72,149.39 L375.67,149.64 L375.62,149.88 L375.58,150.12 L375.54,150.36 L375.50,150.61 L375.46,150.85 L375.42,151.09 L375.38,151.33 L375.34,151.57 L375.30,151.82 L375.26,152.06 L375.23,152.30 L375.19,152.54 L375.15,152.79 L375.11,153.03 L375.07,153.27 L375.03,153.51 L374.99,153.76 L374.96,154.00 L374.92,154.24 L374.88,154.48 L374.84,154.73 L374.81,154.97 L374.77,155.21 L374.73,155.45 L374.69,155.69 L374.66,155.94 L374.62,156.18 L374.58,156.42 L374.54,156.66 L374.51,156.91 L374.47,157.15 L374.43,157.39 L374.40,157.63 L374.36,157.88 L374.32,158.12 L374.29,158.36 L374.25,158.60 L374.21,158.85 L374.18,159.09 L374.14,159.33 L374.11,159.57 L374.07,159.82 L374.04,160.06 L374.00,160.30 L374.00,160.30 L373.96,160.06 L373.93,159.82 L373.89,159.57 L373.86,159.33 L373.82,159.09 L373.79,158.85 L373.75,158.60 L373.71,158.36 L373.68,158.12 L373.64,157.88 L373.60,157.63 L373.57,157.39 L373.53,157.15 L373.49,156.91 L373.46,156.66 L373.42,156.42 L373.38,156.18 L373.34,155.94 L373.31,155.69 L373.27,155.45 L373.23,155.21 L373.19,154.97 L373.16,154.73 L373.12,154.48 L373.08,154.24 L373.04,154.00 L373.01,153.76 L372.97,153.51 L372.93,153.27 L372.89,153.03 L372.85,152.79 L372.81,152.54 L372.77,152.30 L372.74,152.06 L372.70,151.82 L372.66,151.57 L372.62,151.33 L372.58,151.09 L372.54,150.85 L372.50,150.61 L372.46,150.36 L372.42,150.12 L372.38,149.88 L372.33,149.64 L372.28,149.39 L372.23,149.15 L372.18,148.91 L372.12,148.67 L372.07,148.42 L372.01,148.18 L371.96,147.94 L371.92,147.70 L371.88,147.45 L371.85,147.21 L371.82,146.97 L371.80,146.73 L371.80,146.48 L372.63,146.24 L374.00,146.00 Z" fill="#6a48a8" stroke="#2a1a4a" stroke-width="0.55" stroke-linejoin="round"/>
<path d="M374.00,112.00 L374.02,112.34 L374.04,112.68 L374.06,113.02 L374.08,113.36 L374.10,113.69 L374.12,114.03 L374.14,114.37 L374.16,114.71 L374.18,115.05 L374.20,115.39 L374.22,115.73 L374.24,116.07 L374.25,116.41 L374.27,116.75 L374.29,117.08 L374.31,117.42 L374.33,117.76 L374.35,118.10 L374.37,118.44 L374.38,118.78 L374.40,119.12 L374.42,119.46 L374.44,119.80 L374.46,120.14 L374.47,120.47 L374.49,120.81 L374.51,121.15 L374.53,121.49 L374.54,121.83 L374.56,122.17 L374.58,122.51 L374.59,122.85 L374.61,123.19 L374.62,123.53 L374.64,123.86 L374.66,124.20 L374.67,124.54 L374.69,124.88 L374.71,125.22 L374.72,125.56 L374.74,125.90 L374.76,126.24 L374.78,126.58 L374.80,126.92 L374.81,127.25 L374.83,127.59 L374.85,127.93 L374.87,128.27 L374.89,128.61 L374.91,128.95 L374.93,129.29 L374.95,129.63 L374.97,129.97 L374.99,130.31 L375.01,130.64 L375.04,130.98 L375.06,131.32 L375.08,131.66 L375.10,132.00 L372.90,132.00 L372.92,131.66 L372.94,131.32 L372.96,130.98 L372.99,130.64 L373.01,130.31 L373.03,129.97 L373.05,129.63 L373.07,129.29 L373.09,128.95 L373.11,128.61 L373.13,128.27 L373.15,127.93 L373.17,127.59 L373.19,127.25 L373.20,126.92 L373.22,126.58 L373.24,126.24 L373.26,125.90 L373.28,125.56 L373.29,125.22 L373.31,124.88 L373.33,124.54 L373.34,124.20 L373.36,123.86 L373.38,123.53 L373.39,123.19 L373.41,122.85 L373.42,122.51 L373.44,122.17 L373.46,121.83 L373.47,121.49 L373.49,121.15 L373.51,120.81 L373.53,120.47 L373.54,120.14 L373.56,119.80 L373.58,119.46 L373.60,119.12 L373.62,118.78 L373.63,118.44 L373.65,118.10 L373.67,117.76 L373.69,117.42 L373.71,117.08 L373.73,116.75 L373.75,116.41 L373.76,116.07 L373.78,115.73 L373.80,115.39 L373.82,115.05 L373.84,114.71 L373.86,114.37 L373.88,114.03 L373.90,113.69 L373.92,113.36 L373.94,113.02 L373.96,112.68 L373.98,112.34 L374.00,112.00 Z" fill="#111" stroke="#111" stroke-width="0.3" stroke-linejoin="round"/>
<rect x="369.9" y="131.6" width="8.900000000000034" height="14.300000000000011" fill="#fff" stroke="#000" stroke-width="0.6"/>
<line x1="369.9" y1="145.4" x2="378.8" y2="145.4" stroke="#222" stroke-width="0.9" />
<path d="M245.50,233.80 L245.90,233.83 L246.30,233.87 L246.68,233.90 L247.06,233.94 L247.42,233.97 L247.77,234.00 L248.10,234.04 L248.41,234.07 L248.71,234.11 L248.99,234.14 L249.25,234.17 L249.48,234.21 L249.69,234.24 L249.88,234.27 L250.04,234.31 L250.19,234.34 L250.34,234.38 L250.49,234.41 L250.63,234.44 L250.77,234.48 L250.90,234.51 L251.02,234.55 L251.13,234.58 L251.23,234.61 L251.31,234.65 L251.38,234.68 L251.44,234.72 L251.48,234.75 L251.50,234.78 L251.50,234.82 L251.48,234.85 L251.44,234.88 L251.38,234.92 L251.31,234.95 L251.23,234.99 L251.13,235.02 L251.02,235.05 L250.90,235.09 L250.77,235.12 L250.63,235.16 L250.49,235.19 L250.34,235.22 L250.19,235.26 L250.04,235.29 L249.88,235.33 L249.69,235.36 L249.48,235.39 L249.25,235.43 L248.99,235.46 L248.71,235.49 L248.41,235.53 L248.10,235.56 L247.77,235.60 L247.42,235.63 L247.06,235.66 L246.68,235.70 L246.30,235.73 L245.90,235.77 L245.50,235.80 L245.50,235.80 L245.10,235.77 L244.70,235.73 L244.32,235.70 L243.94,235.66 L243.58,235.63 L243.23,235.60 L242.90,235.56 L242.59,235.53 L242.29,235.49 L242.01,235.46 L241.75,235.43 L241.52,235.39 L241.31,235.36 L241.12,235.33 L240.96,235.29 L240.81,235.26 L240.66,235.22 L240.51,235.19 L240.37,235.16 L240.23,235.12 L240.10,235.09 L239.98,235.05 L239.87,235.02 L239.77,234.99 L239.69,234.95 L239.62,234.92 L239.56,234.88 L239.52,234.85 L239.50,234.82 L239.50,234.78 L239.52,234.75 L239.56,234.72 L239.62,234.68 L239.69,234.65 L239.77,234.61 L239.87,234.58 L239.98,234.55 L240.10,234.51 L240.23,234.48 L240.37,234.44 L240.51,234.41 L240.66,234.38 L240.81,234.34 L240.96,234.31 L241.12,234.27 L241.31,234.24 L241.52,234.21 L241.75,234.17 L242.01,234.14 L242.29,234.11 L242.59,234.07 L242.90,234.04 L243.23,234.00 L243.58,233.97 L243.94,233.94 L244.32,233.90 L244.70,233.87 L245.10,233.83 L245.50,233.80 Z" fill="#9a6a80" stroke="none" stroke-width="0.0" stroke-linejoin="round"/>
<line x1="223.9" y1="234.8" x2="267.1" y2="234.8" stroke="#3a3035" stroke-width="1.4" stroke-opacity="0.85"/>
<ellipse cx="245.5" cy="234.8" rx="4.4" ry="0.95" fill="#111"/>
<line x1="245.5" y1="232.3" x2="245.5" y2="234.8" stroke="#111" stroke-width="1.1"/>
<circle cx="245.5" cy="232.70000000000002" r="0.7" fill="#111"/>
<path d="M288.40,233.40 L289.00,233.45 L289.60,233.49 L290.17,233.54 L290.74,233.59 L291.28,233.64 L291.80,233.68 L292.30,233.73 L292.77,233.78 L293.22,233.83 L293.63,233.87 L294.02,233.92 L294.37,233.97 L294.69,234.02 L294.97,234.06 L295.21,234.11 L295.44,234.16 L295.66,234.21 L295.88,234.25 L296.10,234.30 L296.30,234.35 L296.49,234.40 L296.68,234.44 L296.84,234.49 L296.99,234.54 L297.12,234.59 L297.22,234.63 L297.31,234.68 L297.37,234.73 L297.40,234.78 L297.40,234.82 L297.37,234.87 L297.31,234.92 L297.22,234.97 L297.12,235.01 L296.99,235.06 L296.84,235.11 L296.68,235.16 L296.49,235.20 L296.30,235.25 L296.10,235.30 L295.88,235.35 L295.66,235.39 L295.44,235.44 L295.21,235.49 L294.97,235.54 L294.69,235.58 L294.37,235.63 L294.02,235.68 L293.63,235.73 L293.22,235.77 L292.77,235.82 L292.30,235.87 L291.80,235.92 L291.28,235.96 L290.74,236.01 L290.17,236.06 L289.60,236.11 L289.00,236.15 L288.40,236.20 L288.40,236.20 L287.80,236.15 L287.20,236.11 L286.63,236.06 L286.06,236.01 L285.52,235.96 L285.00,235.92 L284.50,235.87 L284.03,235.82 L283.58,235.77 L283.17,235.73 L282.78,235.68 L282.43,235.63 L282.11,235.58 L281.83,235.54 L281.59,235.49 L281.36,235.44 L281.14,235.39 L280.92,235.35 L280.70,235.30 L280.50,235.25 L280.31,235.20 L280.12,235.16 L279.96,235.11 L279.81,235.06 L279.68,235.01 L279.58,234.97 L279.49,234.92 L279.43,234.87 L279.40,234.82 L279.40,234.78 L279.43,234.73 L279.49,234.68 L279.58,234.63 L279.68,234.59 L279.81,234.54 L279.96,234.49 L280.12,234.44 L280.31,234.40 L280.50,234.35 L280.70,234.30 L280.92,234.25 L281.14,234.21 L281.36,234.16 L281.59,234.11 L281.83,234.06 L282.11,234.02 L282.43,233.97 L282.78,233.92 L283.17,233.87 L283.58,233.83 L284.03,233.78 L284.50,233.73 L285.00,233.68 L285.52,233.64 L286.06,233.59 L286.63,233.54 L287.20,233.49 L287.80,233.45 L288.40,233.40 Z" fill="#5a7a10" stroke="none" stroke-width="0.0" stroke-linejoin="round"/>
<line x1="275.59999999999997" y1="234.8" x2="301.2" y2="234.8" stroke="#2a2a20" stroke-width="1.4" stroke-opacity="0.9"/>
<ellipse cx="288.4" cy="234.8" rx="4.4" ry="1.0" fill="#111"/>
<line x1="288.4" y1="231.9" x2="288.4" y2="234.8" stroke="#111" stroke-width="1.1"/>
<circle cx="288.4" cy="232.3" r="0.7" fill="#111"/>
<path d="M331.40,233.50 L332.21,233.55 L333.00,233.60 L333.77,233.65 L334.51,233.70 L335.24,233.75 L335.93,233.81 L336.60,233.86 L337.23,233.91 L337.82,233.96 L338.38,234.01 L338.89,234.06 L339.36,234.11 L339.78,234.16 L340.16,234.21 L340.48,234.26 L340.78,234.31 L341.08,234.36 L341.38,234.42 L341.66,234.47 L341.93,234.52 L342.19,234.57 L342.43,234.62 L342.65,234.67 L342.85,234.72 L343.02,234.77 L343.17,234.82 L343.28,234.87 L343.36,234.92 L343.39,234.97 L343.39,235.03 L343.36,235.08 L343.28,235.13 L343.17,235.18 L343.02,235.23 L342.85,235.28 L342.65,235.33 L342.43,235.38 L342.19,235.43 L341.93,235.48 L341.66,235.53 L341.38,235.58 L341.08,235.64 L340.78,235.69 L340.48,235.74 L340.16,235.79 L339.78,235.84 L339.36,235.89 L338.89,235.94 L338.38,235.99 L337.82,236.04 L337.23,236.09 L336.60,236.14 L335.93,236.19 L335.24,236.25 L334.51,236.30 L333.77,236.35 L333.00,236.40 L332.21,236.45 L331.40,236.50 L331.40,236.50 L330.59,236.45 L329.80,236.40 L329.03,236.35 L328.29,236.30 L327.56,236.25 L326.87,236.19 L326.20,236.14 L325.57,236.09 L324.98,236.04 L324.42,235.99 L323.91,235.94 L323.44,235.89 L323.02,235.84 L322.64,235.79 L322.32,235.74 L322.02,235.69 L321.72,235.64 L321.42,235.58 L321.14,235.53 L320.87,235.48 L320.61,235.43 L320.37,235.38 L320.15,235.33 L319.95,235.28 L319.78,235.23 L319.63,235.18 L319.52,235.13 L319.44,235.08 L319.41,235.03 L319.41,234.97 L319.44,234.92 L319.52,234.87 L319.63,234.82 L319.78,234.77 L319.95,234.72 L320.15,234.67 L320.37,234.62 L320.61,234.57 L320.87,234.52 L321.14,234.47 L321.42,234.42 L321.72,234.36 L322.02,234.31 L322.32,234.26 L322.64,234.21 L323.02,234.16 L323.44,234.11 L323.91,234.06 L324.42,234.01 L324.98,233.96 L325.57,233.91 L326.20,233.86 L326.87,233.81 L327.56,233.75 L328.29,233.70 L329.03,233.65 L329.80,233.60 L330.59,233.55 L331.40,233.50 Z" fill="#1a8a8c" stroke="none" stroke-width="0.0" stroke-linejoin="round"/>
<line x1="318.0" y1="235.0" x2="344.79999999999995" y2="235.0" stroke="#1e3a38" stroke-width="1.4" stroke-opacity="0.9"/>
<ellipse cx="331.4" cy="235.0" rx="4.4" ry="0.95" fill="#111"/>
<line x1="331.4" y1="231.4" x2="331.4" y2="235.0" stroke="#111" stroke-width="1.1"/>
<circle cx="331.4" cy="231.8" r="0.7" fill="#111"/>
<line x1="374.6" y1="189.2" x2="374.6" y2="214" stroke="#2a1a3a" stroke-width="0.8" />
<path d="M374.60,233.30 L375.91,233.59 L376.40,233.88 L376.39,234.16 L376.38,234.45 L376.35,234.74 L376.32,235.03 L376.29,235.32 L376.25,235.61 L376.21,235.89 L376.16,236.18 L376.12,236.47 L376.07,236.76 L376.03,237.05 L375.99,237.33 L375.95,237.62 L375.91,237.91 L375.88,238.20 L375.85,238.49 L375.82,238.77 L375.79,239.06 L375.76,239.35 L375.73,239.64 L375.70,239.93 L375.67,240.22 L375.64,240.50 L375.62,240.79 L375.59,241.08 L375.56,241.37 L375.53,241.66 L375.51,241.94 L375.48,242.23 L375.45,242.52 L375.42,242.81 L375.39,243.10 L375.36,243.38 L375.33,243.67 L375.30,243.96 L375.27,244.25 L375.24,244.54 L375.21,244.83 L375.18,245.11 L375.15,245.40 L375.12,245.69 L375.09,245.98 L375.06,246.27 L375.03,246.55 L374.99,246.84 L374.96,247.13 L374.93,247.42 L374.90,247.71 L374.86,247.99 L374.83,248.28 L374.80,248.57 L374.77,248.86 L374.73,249.15 L374.70,249.44 L374.67,249.72 L374.63,250.01 L374.60,250.30 L374.60,250.30 L374.57,250.01 L374.53,249.72 L374.50,249.44 L374.47,249.15 L374.43,248.86 L374.40,248.57 L374.37,248.28 L374.34,247.99 L374.30,247.71 L374.27,247.42 L374.24,247.13 L374.21,246.84 L374.17,246.55 L374.14,246.27 L374.11,245.98 L374.08,245.69 L374.05,245.40 L374.02,245.11 L373.99,244.83 L373.96,244.54 L373.93,244.25 L373.90,243.96 L373.87,243.67 L373.84,243.38 L373.81,243.10 L373.78,242.81 L373.75,242.52 L373.72,242.23 L373.69,241.94 L373.67,241.66 L373.64,241.37 L373.61,241.08 L373.58,240.79 L373.56,240.50 L373.53,240.22 L373.50,239.93 L373.47,239.64 L373.44,239.35 L373.41,239.06 L373.38,238.77 L373.35,238.49 L373.32,238.20 L373.29,237.91 L373.25,237.62 L373.21,237.33 L373.17,237.05 L373.13,236.76 L373.08,236.47 L373.04,236.18 L372.99,235.89 L372.95,235.61 L372.91,235.32 L372.88,235.03 L372.85,234.74 L372.82,234.45 L372.81,234.16 L372.80,233.88 L373.29,233.59 L374.60,233.30 Z" fill="#4a3a64" stroke="#2a1a3a" stroke-width="0.5" stroke-linejoin="round"/>
<path d="M374.60,196.00 L374.61,196.31 L374.62,196.61 L374.63,196.92 L374.64,197.22 L374.65,197.53 L374.67,197.83 L374.68,198.14 L374.69,198.44 L374.70,198.75 L374.72,199.05 L374.73,199.36 L374.75,199.66 L374.76,199.97 L374.78,200.27 L374.79,200.58 L374.81,200.88 L374.82,201.19 L374.84,201.49 L374.86,201.80 L374.88,202.10 L374.89,202.41 L374.91,202.71 L374.93,203.02 L374.95,203.32 L374.97,203.63 L374.98,203.93 L375.00,204.24 L375.02,204.54 L375.04,204.85 L375.06,205.15 L375.08,205.46 L375.10,205.76 L375.12,206.07 L375.15,206.37 L375.17,206.68 L375.19,206.98 L375.22,207.29 L375.24,207.59 L375.27,207.90 L375.30,208.20 L375.32,208.51 L375.35,208.81 L375.38,209.12 L375.40,209.42 L375.43,209.73 L375.45,210.03 L375.48,210.34 L375.50,210.64 L375.53,210.95 L375.56,211.25 L375.58,211.56 L375.61,211.86 L375.64,212.17 L375.66,212.47 L375.69,212.78 L375.72,213.08 L375.74,213.39 L375.77,213.69 L375.80,214.00 L373.40,214.00 L373.43,213.69 L373.46,213.39 L373.48,213.08 L373.51,212.78 L373.54,212.47 L373.56,212.17 L373.59,211.86 L373.62,211.56 L373.64,211.25 L373.67,210.95 L373.70,210.64 L373.72,210.34 L373.75,210.03 L373.77,209.73 L373.80,209.42 L373.82,209.12 L373.85,208.81 L373.88,208.51 L373.90,208.20 L373.93,207.90 L373.96,207.59 L373.98,207.29 L374.01,206.98 L374.03,206.68 L374.05,206.37 L374.08,206.07 L374.10,205.76 L374.12,205.46 L374.14,205.15 L374.16,204.85 L374.18,204.54 L374.20,204.24 L374.22,203.93 L374.23,203.63 L374.25,203.32 L374.27,203.02 L374.29,202.71 L374.31,202.41 L374.32,202.10 L374.34,201.80 L374.36,201.49 L374.38,201.19 L374.39,200.88 L374.41,200.58 L374.42,200.27 L374.44,199.97 L374.45,199.66 L374.47,199.36 L374.48,199.05 L374.50,198.75 L374.51,198.44 L374.52,198.14 L374.53,197.83 L374.55,197.53 L374.56,197.22 L374.57,196.92 L374.58,196.61 L374.59,196.31 L374.60,196.00 Z" fill="#111" stroke="#111" stroke-width="0.3" stroke-linejoin="round"/>
<rect x="370.4" y="213.7" width="8.400000000000034" height="19.600000000000023" fill="#fff" stroke="#000" stroke-width="0.6"/>
<line x1="370.4" y1="232.8" x2="378.8" y2="232.8" stroke="#222" stroke-width="0.9" />
</g></svg>
</body></html>
